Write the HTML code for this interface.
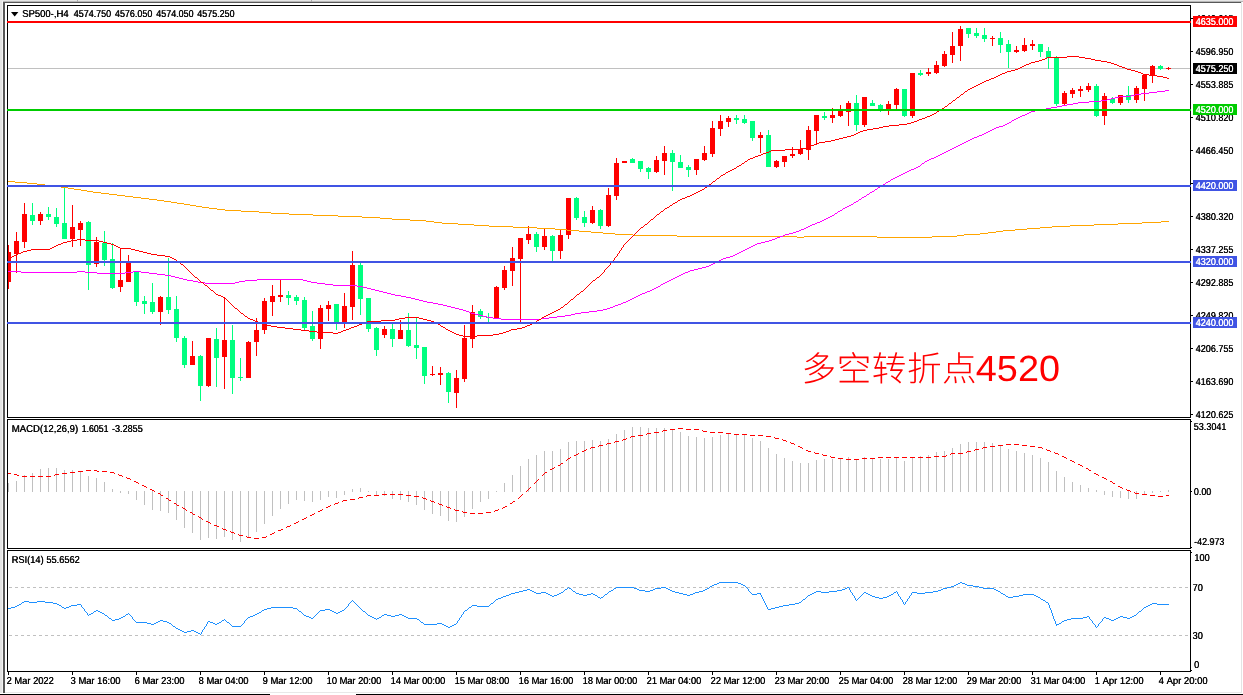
<!DOCTYPE html>
<html><head><meta charset="utf-8"><title>SP500 H4</title>
<style>
html,body{margin:0;padding:0;background:#fff;}
body{width:1243px;height:695px;overflow:hidden;font-family:"Liberation Sans",sans-serif;}
svg{will-change:transform;display:block;position:absolute;left:0;top:0;}
text{font-family:"Liberation Sans",sans-serif;font-size:10px;text-rendering:geometricPrecision;}
</style></head><body>
<svg width="1243" height="695" viewBox="0 0 1243 695">
<rect x="0" y="0" width="1243" height="695" fill="#ffffff"/>
<g shape-rendering="crispEdges">
<rect x="0" y="0" width="1243" height="1" fill="#e6e6e6"/>
<rect x="0" y="1" width="1243" height="1" fill="#b8b8b8"/>
<rect x="0" y="0" width="2" height="693" fill="#e4e4e4"/>
<rect x="2" y="1" width="1" height="692" fill="#f4f4f4"/>
<rect x="3" y="2" width="1239" height="1" fill="#585858"/>
<rect x="3" y="2" width="2" height="691" fill="#585858"/>
<rect x="1241" y="2" width="1" height="691" fill="#e4e4e4"/>
<rect x="5" y="692" width="1237" height="1" fill="#e8e8e8"/>
<rect x="0" y="694" width="270" height="1" fill="#000"/>
<rect x="356" y="694" width="887" height="1" fill="#000"/>
<rect x="77" y="0" width="1" height="2" fill="#a8a8a8"/>
<rect x="311" y="0" width="1" height="2" fill="#a8a8a8"/>
<rect x="7" y="5" width="1184" height="1" fill="#000"/>
<rect x="7" y="417" width="1184" height="1" fill="#000"/>
<rect x="7" y="5" width="1" height="413" fill="#000"/>
<rect x="1190" y="5" width="1" height="413" fill="#000"/>
<rect x="7" y="419" width="1184" height="1" fill="#000"/>
<rect x="7" y="548" width="1184" height="1" fill="#000"/>
<rect x="7" y="419" width="1" height="130" fill="#000"/>
<rect x="1190" y="419" width="1" height="130" fill="#000"/>
<rect x="7" y="550" width="1184" height="1" fill="#000"/>
<rect x="7" y="671" width="1184" height="1" fill="#000"/>
<rect x="7" y="550" width="1" height="122" fill="#000"/>
<rect x="1190" y="550" width="1" height="122" fill="#000"/>
</g>
<defs><clipPath id="cm"><rect x="8" y="6" width="1182" height="411"/></clipPath><clipPath id="c2"><rect x="8" y="420" width="1182" height="128"/></clipPath><clipPath id="c3"><rect x="8" y="551" width="1182" height="120"/></clipPath></defs>
<g clip-path="url(#cm)" shape-rendering="crispEdges">
<rect x="7" y="68" width="1184" height="1" fill="#c0c0c0"/>
<rect x="8" y="245" width="1" height="44" fill="#ff0000"/>
<rect x="6" y="252" width="5" height="30" fill="#ff0000"/>
<rect x="16" y="232" width="1" height="41" fill="#ff0000"/>
<rect x="14" y="241" width="5" height="13" fill="#ff0000"/>
<rect x="24" y="203" width="1" height="45" fill="#ff0000"/>
<rect x="22" y="214" width="5" height="28" fill="#ff0000"/>
<rect x="32" y="203" width="1" height="22" fill="#00ff7f"/>
<rect x="30" y="215" width="5" height="6" fill="#00ff7f"/>
<rect x="40" y="212" width="1" height="13" fill="#ff0000"/>
<rect x="38" y="214" width="5" height="7" fill="#ff0000"/>
<rect x="48" y="207" width="1" height="13" fill="#00ff7f"/>
<rect x="46" y="214" width="5" height="3" fill="#00ff7f"/>
<rect x="56" y="208" width="1" height="19" fill="#00ff7f"/>
<rect x="54" y="217" width="5" height="7" fill="#00ff7f"/>
<rect x="64" y="187" width="1" height="52" fill="#00ff7f"/>
<rect x="62" y="223" width="5" height="16" fill="#00ff7f"/>
<rect x="72" y="205" width="1" height="42" fill="#ff0000"/>
<rect x="70" y="227" width="5" height="12" fill="#ff0000"/>
<rect x="80" y="221" width="1" height="25" fill="#ff0000"/>
<rect x="78" y="223" width="5" height="7" fill="#ff0000"/>
<rect x="88" y="221" width="1" height="69" fill="#00ff7f"/>
<rect x="86" y="222" width="5" height="43" fill="#00ff7f"/>
<rect x="96" y="237" width="1" height="30" fill="#ff0000"/>
<rect x="94" y="242" width="5" height="22" fill="#ff0000"/>
<rect x="104" y="231" width="1" height="35" fill="#00ff7f"/>
<rect x="102" y="243" width="5" height="17" fill="#00ff7f"/>
<rect x="112" y="243" width="1" height="46" fill="#00ff7f"/>
<rect x="110" y="259" width="5" height="29" fill="#00ff7f"/>
<rect x="120" y="248" width="1" height="44" fill="#ff0000"/>
<rect x="118" y="280" width="5" height="7" fill="#ff0000"/>
<rect x="128" y="255" width="1" height="27" fill="#ff0000"/>
<rect x="126" y="262" width="5" height="20" fill="#ff0000"/>
<rect x="136" y="271" width="1" height="35" fill="#00ff7f"/>
<rect x="134" y="271" width="5" height="31" fill="#00ff7f"/>
<rect x="144" y="296" width="1" height="18" fill="#00ff7f"/>
<rect x="142" y="301" width="5" height="3" fill="#00ff7f"/>
<rect x="152" y="283" width="1" height="31" fill="#00ff7f"/>
<rect x="150" y="302" width="5" height="10" fill="#00ff7f"/>
<rect x="160" y="296" width="1" height="29" fill="#ff0000"/>
<rect x="158" y="297" width="5" height="15" fill="#ff0000"/>
<rect x="168" y="258" width="1" height="56" fill="#00ff7f"/>
<rect x="166" y="297" width="5" height="13" fill="#00ff7f"/>
<rect x="176" y="296" width="1" height="46" fill="#00ff7f"/>
<rect x="174" y="309" width="5" height="29" fill="#00ff7f"/>
<rect x="184" y="336" width="1" height="32" fill="#00ff7f"/>
<rect x="182" y="338" width="5" height="27" fill="#00ff7f"/>
<rect x="192" y="341" width="1" height="24" fill="#ff0000"/>
<rect x="190" y="356" width="5" height="9" fill="#ff0000"/>
<rect x="200" y="355" width="1" height="46" fill="#00ff7f"/>
<rect x="198" y="356" width="5" height="30" fill="#00ff7f"/>
<rect x="208" y="338" width="1" height="49" fill="#ff0000"/>
<rect x="206" y="338" width="5" height="48" fill="#ff0000"/>
<rect x="216" y="328" width="1" height="59" fill="#00ff7f"/>
<rect x="214" y="339" width="5" height="19" fill="#00ff7f"/>
<rect x="224" y="297" width="1" height="92" fill="#ff0000"/>
<rect x="222" y="340" width="5" height="17" fill="#ff0000"/>
<rect x="232" y="325" width="1" height="69" fill="#00ff7f"/>
<rect x="230" y="340" width="5" height="38" fill="#00ff7f"/>
<rect x="240" y="358" width="1" height="23" fill="#00ff7f"/>
<rect x="238" y="377" width="5" height="1" fill="#00ff7f"/>
<rect x="248" y="341" width="1" height="37" fill="#ff0000"/>
<rect x="246" y="342" width="5" height="36" fill="#ff0000"/>
<rect x="256" y="318" width="1" height="38" fill="#ff0000"/>
<rect x="254" y="330" width="5" height="12" fill="#ff0000"/>
<rect x="264" y="298" width="1" height="36" fill="#ff0000"/>
<rect x="262" y="301" width="5" height="29" fill="#ff0000"/>
<rect x="272" y="285" width="1" height="31" fill="#ff0000"/>
<rect x="270" y="296" width="5" height="6" fill="#ff0000"/>
<rect x="280" y="280" width="1" height="22" fill="#ff0000"/>
<rect x="278" y="295" width="5" height="2" fill="#ff0000"/>
<rect x="288" y="291" width="1" height="14" fill="#00ff7f"/>
<rect x="286" y="295" width="5" height="3" fill="#00ff7f"/>
<rect x="296" y="295" width="1" height="10" fill="#00ff7f"/>
<rect x="294" y="297" width="5" height="4" fill="#00ff7f"/>
<rect x="304" y="297" width="1" height="33" fill="#00ff7f"/>
<rect x="302" y="300" width="5" height="28" fill="#00ff7f"/>
<rect x="312" y="311" width="1" height="30" fill="#00ff7f"/>
<rect x="310" y="326" width="5" height="13" fill="#00ff7f"/>
<rect x="320" y="305" width="1" height="44" fill="#ff0000"/>
<rect x="318" y="308" width="5" height="31" fill="#ff0000"/>
<rect x="328" y="301" width="1" height="20" fill="#ff0000"/>
<rect x="326" y="305" width="5" height="4" fill="#ff0000"/>
<rect x="336" y="304" width="1" height="26" fill="#00ff7f"/>
<rect x="334" y="304" width="5" height="18" fill="#00ff7f"/>
<rect x="344" y="293" width="1" height="35" fill="#ff0000"/>
<rect x="342" y="306" width="5" height="16" fill="#ff0000"/>
<rect x="352" y="251" width="1" height="69" fill="#ff0000"/>
<rect x="350" y="265" width="5" height="42" fill="#ff0000"/>
<rect x="360" y="263" width="1" height="52" fill="#00ff7f"/>
<rect x="358" y="265" width="5" height="34" fill="#00ff7f"/>
<rect x="368" y="298" width="1" height="34" fill="#00ff7f"/>
<rect x="366" y="298" width="5" height="31" fill="#00ff7f"/>
<rect x="376" y="327" width="1" height="29" fill="#00ff7f"/>
<rect x="374" y="328" width="5" height="22" fill="#00ff7f"/>
<rect x="384" y="326" width="1" height="12" fill="#ff0000"/>
<rect x="382" y="329" width="5" height="6" fill="#ff0000"/>
<rect x="392" y="324" width="1" height="23" fill="#00ff7f"/>
<rect x="390" y="329" width="5" height="10" fill="#00ff7f"/>
<rect x="400" y="320" width="1" height="19" fill="#ff0000"/>
<rect x="398" y="330" width="5" height="9" fill="#ff0000"/>
<rect x="408" y="313" width="1" height="34" fill="#00ff7f"/>
<rect x="406" y="330" width="5" height="16" fill="#00ff7f"/>
<rect x="416" y="318" width="1" height="41" fill="#00ff7f"/>
<rect x="414" y="345" width="5" height="3" fill="#00ff7f"/>
<rect x="424" y="347" width="1" height="37" fill="#00ff7f"/>
<rect x="422" y="347" width="5" height="29" fill="#00ff7f"/>
<rect x="432" y="366" width="1" height="10" fill="#ff0000"/>
<rect x="430" y="374" width="5" height="1" fill="#ff0000"/>
<rect x="440" y="367" width="1" height="18" fill="#ff0000"/>
<rect x="438" y="373" width="5" height="2" fill="#ff0000"/>
<rect x="448" y="372" width="1" height="31" fill="#00ff7f"/>
<rect x="446" y="373" width="5" height="19" fill="#00ff7f"/>
<rect x="456" y="370" width="1" height="38" fill="#ff0000"/>
<rect x="454" y="378" width="5" height="15" fill="#ff0000"/>
<rect x="464" y="325" width="1" height="57" fill="#ff0000"/>
<rect x="462" y="338" width="5" height="41" fill="#ff0000"/>
<rect x="472" y="305" width="1" height="43" fill="#ff0000"/>
<rect x="470" y="312" width="5" height="27" fill="#ff0000"/>
<rect x="480" y="309" width="1" height="10" fill="#00ff7f"/>
<rect x="478" y="311" width="5" height="6" fill="#00ff7f"/>
<rect x="488" y="313" width="1" height="9" fill="#00ff7f"/>
<rect x="486" y="317" width="5" height="1" fill="#00ff7f"/>
<rect x="496" y="286" width="1" height="32" fill="#ff0000"/>
<rect x="494" y="287" width="5" height="31" fill="#ff0000"/>
<rect x="504" y="266" width="1" height="24" fill="#ff0000"/>
<rect x="502" y="270" width="5" height="18" fill="#ff0000"/>
<rect x="512" y="247" width="1" height="39" fill="#ff0000"/>
<rect x="510" y="258" width="5" height="13" fill="#ff0000"/>
<rect x="520" y="238" width="1" height="84" fill="#ff0000"/>
<rect x="518" y="238" width="5" height="21" fill="#ff0000"/>
<rect x="528" y="226" width="1" height="18" fill="#ff0000"/>
<rect x="526" y="234" width="5" height="6" fill="#ff0000"/>
<rect x="536" y="232" width="1" height="20" fill="#00ff7f"/>
<rect x="534" y="234" width="5" height="13" fill="#00ff7f"/>
<rect x="544" y="229" width="1" height="21" fill="#ff0000"/>
<rect x="542" y="236" width="5" height="11" fill="#ff0000"/>
<rect x="552" y="235" width="1" height="26" fill="#00ff7f"/>
<rect x="550" y="236" width="5" height="15" fill="#00ff7f"/>
<rect x="560" y="230" width="1" height="29" fill="#ff0000"/>
<rect x="558" y="235" width="5" height="16" fill="#ff0000"/>
<rect x="568" y="198" width="1" height="41" fill="#ff0000"/>
<rect x="566" y="198" width="5" height="37" fill="#ff0000"/>
<rect x="576" y="197" width="1" height="23" fill="#00ff7f"/>
<rect x="574" y="198" width="5" height="20" fill="#00ff7f"/>
<rect x="584" y="211" width="1" height="16" fill="#00ff7f"/>
<rect x="582" y="217" width="5" height="6" fill="#00ff7f"/>
<rect x="592" y="206" width="1" height="18" fill="#ff0000"/>
<rect x="590" y="210" width="5" height="13" fill="#ff0000"/>
<rect x="600" y="209" width="1" height="20" fill="#00ff7f"/>
<rect x="598" y="210" width="5" height="16" fill="#00ff7f"/>
<rect x="608" y="188" width="1" height="39" fill="#ff0000"/>
<rect x="606" y="195" width="5" height="31" fill="#ff0000"/>
<rect x="616" y="158" width="1" height="42" fill="#ff0000"/>
<rect x="614" y="163" width="5" height="33" fill="#ff0000"/>
<rect x="624" y="161" width="1" height="2" fill="#ff0000"/>
<rect x="622" y="161" width="5" height="2" fill="#ff0000"/>
<rect x="632" y="158" width="1" height="5" fill="#00ff7f"/>
<rect x="630" y="159" width="5" height="4" fill="#00ff7f"/>
<rect x="640" y="161" width="1" height="11" fill="#00ff7f"/>
<rect x="638" y="161" width="5" height="8" fill="#00ff7f"/>
<rect x="648" y="167" width="1" height="12" fill="#00ff7f"/>
<rect x="646" y="168" width="5" height="4" fill="#00ff7f"/>
<rect x="656" y="156" width="1" height="17" fill="#ff0000"/>
<rect x="654" y="160" width="5" height="12" fill="#ff0000"/>
<rect x="664" y="146" width="1" height="29" fill="#ff0000"/>
<rect x="662" y="153" width="5" height="8" fill="#ff0000"/>
<rect x="672" y="150" width="1" height="41" fill="#00ff7f"/>
<rect x="670" y="153" width="5" height="9" fill="#00ff7f"/>
<rect x="680" y="155" width="1" height="13" fill="#00ff7f"/>
<rect x="678" y="162" width="5" height="6" fill="#00ff7f"/>
<rect x="688" y="165" width="1" height="12" fill="#00ff7f"/>
<rect x="686" y="167" width="5" height="3" fill="#00ff7f"/>
<rect x="696" y="159" width="1" height="16" fill="#ff0000"/>
<rect x="694" y="159" width="5" height="11" fill="#ff0000"/>
<rect x="704" y="146" width="1" height="15" fill="#ff0000"/>
<rect x="702" y="153" width="5" height="7" fill="#ff0000"/>
<rect x="712" y="121" width="1" height="36" fill="#ff0000"/>
<rect x="710" y="128" width="5" height="26" fill="#ff0000"/>
<rect x="720" y="115" width="1" height="21" fill="#ff0000"/>
<rect x="718" y="121" width="5" height="8" fill="#ff0000"/>
<rect x="728" y="116" width="1" height="11" fill="#ff0000"/>
<rect x="726" y="118" width="5" height="4" fill="#ff0000"/>
<rect x="736" y="115" width="1" height="9" fill="#00ff7f"/>
<rect x="734" y="118" width="5" height="2" fill="#00ff7f"/>
<rect x="744" y="115" width="1" height="9" fill="#00ff7f"/>
<rect x="742" y="119" width="5" height="4" fill="#00ff7f"/>
<rect x="752" y="121" width="1" height="20" fill="#00ff7f"/>
<rect x="750" y="121" width="5" height="17" fill="#00ff7f"/>
<rect x="760" y="132" width="1" height="21" fill="#ff0000"/>
<rect x="758" y="135" width="5" height="3" fill="#ff0000"/>
<rect x="768" y="130" width="1" height="37" fill="#00ff7f"/>
<rect x="766" y="135" width="5" height="32" fill="#00ff7f"/>
<rect x="776" y="160" width="1" height="8" fill="#ff0000"/>
<rect x="774" y="161" width="5" height="6" fill="#ff0000"/>
<rect x="784" y="156" width="1" height="11" fill="#ff0000"/>
<rect x="782" y="156" width="5" height="6" fill="#ff0000"/>
<rect x="792" y="147" width="1" height="11" fill="#ff0000"/>
<rect x="790" y="154" width="5" height="2" fill="#ff0000"/>
<rect x="800" y="140" width="1" height="15" fill="#ff0000"/>
<rect x="798" y="149" width="5" height="5" fill="#ff0000"/>
<rect x="808" y="126" width="1" height="34" fill="#ff0000"/>
<rect x="806" y="130" width="5" height="20" fill="#ff0000"/>
<rect x="816" y="115" width="1" height="29" fill="#ff0000"/>
<rect x="814" y="115" width="5" height="16" fill="#ff0000"/>
<rect x="824" y="112" width="1" height="8" fill="#00ff7f"/>
<rect x="822" y="116" width="5" height="2" fill="#00ff7f"/>
<rect x="832" y="108" width="1" height="15" fill="#ff0000"/>
<rect x="830" y="115" width="5" height="3" fill="#ff0000"/>
<rect x="840" y="105" width="1" height="12" fill="#ff0000"/>
<rect x="838" y="110" width="5" height="6" fill="#ff0000"/>
<rect x="848" y="101" width="1" height="25" fill="#ff0000"/>
<rect x="846" y="103" width="5" height="9" fill="#ff0000"/>
<rect x="856" y="95" width="1" height="36" fill="#00ff7f"/>
<rect x="854" y="103" width="5" height="22" fill="#00ff7f"/>
<rect x="864" y="97" width="1" height="30" fill="#ff0000"/>
<rect x="862" y="97" width="5" height="28" fill="#ff0000"/>
<rect x="872" y="100" width="1" height="6" fill="#00ff7f"/>
<rect x="870" y="103" width="5" height="3" fill="#00ff7f"/>
<rect x="880" y="104" width="1" height="8" fill="#00ff7f"/>
<rect x="878" y="105" width="5" height="5" fill="#00ff7f"/>
<rect x="888" y="101" width="1" height="14" fill="#ff0000"/>
<rect x="886" y="104" width="5" height="5" fill="#ff0000"/>
<rect x="896" y="88" width="1" height="21" fill="#ff0000"/>
<rect x="894" y="89" width="5" height="16" fill="#ff0000"/>
<rect x="904" y="89" width="1" height="28" fill="#00ff7f"/>
<rect x="902" y="89" width="5" height="27" fill="#00ff7f"/>
<rect x="912" y="73" width="1" height="45" fill="#ff0000"/>
<rect x="910" y="73" width="5" height="43" fill="#ff0000"/>
<rect x="920" y="70" width="1" height="6" fill="#00ff7f"/>
<rect x="918" y="73" width="5" height="2" fill="#00ff7f"/>
<rect x="928" y="68" width="1" height="8" fill="#ff0000"/>
<rect x="926" y="72" width="5" height="2" fill="#ff0000"/>
<rect x="936" y="61" width="1" height="13" fill="#ff0000"/>
<rect x="934" y="65" width="5" height="8" fill="#ff0000"/>
<rect x="944" y="51" width="1" height="16" fill="#ff0000"/>
<rect x="942" y="54" width="5" height="12" fill="#ff0000"/>
<rect x="952" y="32" width="1" height="31" fill="#ff0000"/>
<rect x="950" y="46" width="5" height="9" fill="#ff0000"/>
<rect x="960" y="26" width="1" height="35" fill="#ff0000"/>
<rect x="958" y="29" width="5" height="17" fill="#ff0000"/>
<rect x="968" y="28" width="1" height="10" fill="#00ff7f"/>
<rect x="966" y="28" width="5" height="6" fill="#00ff7f"/>
<rect x="976" y="28" width="1" height="10" fill="#00ff7f"/>
<rect x="974" y="33" width="5" height="3" fill="#00ff7f"/>
<rect x="984" y="28" width="1" height="14" fill="#00ff7f"/>
<rect x="982" y="35" width="5" height="4" fill="#00ff7f"/>
<rect x="992" y="36" width="1" height="10" fill="#ff0000"/>
<rect x="990" y="38" width="5" height="1" fill="#ff0000"/>
<rect x="1000" y="32" width="1" height="21" fill="#00ff7f"/>
<rect x="998" y="38" width="5" height="7" fill="#00ff7f"/>
<rect x="1008" y="40" width="1" height="28" fill="#00ff7f"/>
<rect x="1006" y="44" width="5" height="8" fill="#00ff7f"/>
<rect x="1016" y="46" width="1" height="7" fill="#ff0000"/>
<rect x="1014" y="50" width="5" height="2" fill="#ff0000"/>
<rect x="1024" y="38" width="1" height="14" fill="#ff0000"/>
<rect x="1022" y="45" width="5" height="6" fill="#ff0000"/>
<rect x="1032" y="40" width="1" height="10" fill="#ff0000"/>
<rect x="1030" y="44" width="5" height="2" fill="#ff0000"/>
<rect x="1040" y="44" width="1" height="13" fill="#00ff7f"/>
<rect x="1038" y="44" width="5" height="8" fill="#00ff7f"/>
<rect x="1048" y="47" width="1" height="22" fill="#00ff7f"/>
<rect x="1046" y="51" width="5" height="7" fill="#00ff7f"/>
<rect x="1056" y="56" width="1" height="50" fill="#00ff7f"/>
<rect x="1054" y="58" width="5" height="46" fill="#00ff7f"/>
<rect x="1064" y="91" width="1" height="14" fill="#ff0000"/>
<rect x="1062" y="93" width="5" height="11" fill="#ff0000"/>
<rect x="1072" y="88" width="1" height="10" fill="#ff0000"/>
<rect x="1070" y="90" width="5" height="4" fill="#ff0000"/>
<rect x="1080" y="86" width="1" height="11" fill="#ff0000"/>
<rect x="1078" y="89" width="5" height="2" fill="#ff0000"/>
<rect x="1088" y="83" width="1" height="9" fill="#ff0000"/>
<rect x="1086" y="86" width="5" height="4" fill="#ff0000"/>
<rect x="1096" y="84" width="1" height="33" fill="#00ff7f"/>
<rect x="1094" y="86" width="5" height="30" fill="#00ff7f"/>
<rect x="1104" y="93" width="1" height="32" fill="#ff0000"/>
<rect x="1102" y="96" width="5" height="20" fill="#ff0000"/>
<rect x="1112" y="97" width="1" height="7" fill="#00ff7f"/>
<rect x="1110" y="99" width="5" height="4" fill="#00ff7f"/>
<rect x="1120" y="95" width="1" height="10" fill="#ff0000"/>
<rect x="1118" y="95" width="5" height="8" fill="#ff0000"/>
<rect x="1128" y="86" width="1" height="17" fill="#00ff7f"/>
<rect x="1126" y="95" width="5" height="5" fill="#00ff7f"/>
<rect x="1136" y="86" width="1" height="17" fill="#ff0000"/>
<rect x="1134" y="88" width="5" height="12" fill="#ff0000"/>
<rect x="1144" y="74" width="1" height="27" fill="#ff0000"/>
<rect x="1142" y="75" width="5" height="14" fill="#ff0000"/>
<rect x="1152" y="65" width="1" height="18" fill="#ff0000"/>
<rect x="1150" y="66" width="5" height="10" fill="#ff0000"/>
<rect x="1160" y="65" width="1" height="5" fill="#00ff7f"/>
<rect x="1158" y="66" width="5" height="3" fill="#00ff7f"/>
<rect x="1168" y="67" width="1" height="3" fill="#ff0000"/>
<rect x="1166" y="68" width="5" height="1" fill="#ff0000"/>
<path d="M8 181h7v1h-7zM15 182h12v1h-12zM27 183h10v1h-10zM37 184h8v1h-8zM45 185h8v1h-8zM53 186h8v1h-8zM61 187h7v1h-7zM68 188h6v1h-6zM74 189h7v1h-7zM81 190h6v1h-6zM87 191h6v1h-6zM93 192h8v1h-8zM101 193h8v1h-8zM109 194h8v1h-8zM117 195h8v1h-8zM125 196h8v1h-8zM133 197h8v1h-8zM141 198h8v1h-8zM149 199h8v1h-8zM157 200h7v1h-7zM164 201h7v1h-7zM171 202h6v1h-6zM177 203h7v1h-7zM184 204h6v1h-6zM190 205h6v1h-6zM196 206h6v1h-6zM202 207h7v1h-7zM209 208h8v1h-8zM217 209h8v1h-8zM225 210h16v1h-16zM241 211h18v1h-18zM259 212h12v1h-12zM271 213h18v1h-18zM289 214h24v1h-24zM313 215h25v1h-25zM338 216h24v1h-24zM362 217h18v1h-18zM380 218h12v1h-12zM392 219h18v1h-18zM410 220h16v1h-16zM426 221h8v1h-8zM1161 221h8v1h-8zM434 222h8v1h-8zM1142 222h19v1h-19zM442 223h16v1h-16zM1118 223h24v1h-24zM458 224h16v1h-16zM1094 224h24v1h-24zM474 225h15v1h-15zM1070 225h24v1h-24zM489 226h24v1h-24zM1052 226h18v1h-18zM513 227h24v1h-24zM1040 227h12v1h-12zM537 228h18v1h-18zM1027 228h13v1h-13zM555 229h12v1h-12zM1015 229h12v1h-12zM567 230h12v1h-12zM1003 230h12v1h-12zM579 231h12v1h-12zM996 231h7v1h-7zM591 232h12v1h-12zM988 232h8v1h-8zM603 233h12v1h-12zM980 233h8v1h-8zM615 234h18v1h-18zM964 234h16v1h-16zM633 235h44v1h-44zM957 235h7v1h-7zM677 236h120v1h-120zM804 236h73v1h-73zM932 236h25v1h-25zM797 237h7v1h-7zM877 237h55v1h-55z" fill="#ffa500"/>
<path d="M1165 90h4v1h-4zM1157 91h8v1h-8zM1149 92h8v1h-8zM1141 93h8v1h-8zM1135 94h6v1h-6zM1131 95h4v1h-4zM1119 96h12v1h-12zM1115 97h4v1h-4zM1111 98h4v1h-4zM1107 99h4v1h-4zM1101 100h6v1h-6zM1089 101h12v1h-12zM1078 102h11v1h-11zM1073 103h5v1h-5zM1067 104h6v1h-6zM1062 105h5v1h-5zM1057 106h5v1h-5zM1051 107h6v1h-6zM1046 108h5v1h-5zM1041 109h5v1h-5zM1035 110h6v1h-6zM1031 111h4v1h-4zM1029 112h2v1h-2zM1027 113h2v1h-2zM1025 114h2v1h-2zM1022 115h3v1h-3zM1020 116h2v1h-2zM1018 117h2v1h-2zM1016 118h2v1h-2zM1014 119h2v1h-2zM1012 120h2v1h-2zM1009 122h2v1h-2zM1007 123h2v1h-2zM1005 124h2v1h-2zM1003 125h2v1h-2zM999 126h4v1h-4zM996 127h3v1h-3zM994 128h2v1h-2zM992 129h2v1h-2zM990 130h2v1h-2zM988 131h2v1h-2zM986 132h2v1h-2zM984 133h2v1h-2zM982 134h2v1h-2zM979 135h3v1h-3zM977 136h2v1h-2zM974 137h3v1h-3zM972 138h2v1h-2zM970 139h2v1h-2zM968 140h2v1h-2zM966 141h2v1h-2zM964 142h2v1h-2zM962 143h2v1h-2zM960 144h2v1h-2zM958 145h2v1h-2zM956 146h2v1h-2zM954 147h2v1h-2zM952 148h2v1h-2zM950 149h2v1h-2zM948 150h2v1h-2zM946 151h2v1h-2zM944 152h2v1h-2zM942 153h2v1h-2zM940 154h2v1h-2zM938 155h2v1h-2zM936 156h2v1h-2zM934 157h2v1h-2zM931 158h3v1h-3zM929 159h2v1h-2zM927 160h2v1h-2zM925 161h2v1h-2zM922 163h2v1h-2zM918 166h2v1h-2zM916 167h2v1h-2zM914 168h2v1h-2zM911 169h3v1h-3zM909 170h2v1h-2zM907 171h2v1h-2zM905 172h2v1h-2zM903 173h2v1h-2zM901 174h2v1h-2zM899 175h2v1h-2zM897 176h2v1h-2zM895 177h2v1h-2zM893 178h2v1h-2zM891 179h2v1h-2zM888 181h2v1h-2zM886 182h2v1h-2zM883 184h2v1h-2zM880 186h2v1h-2zM878 187h2v1h-2zM875 189h2v1h-2zM872 191h2v1h-2zM870 192h2v1h-2zM867 194h2v1h-2zM864 196h2v1h-2zM862 197h2v1h-2zM859 199h2v1h-2zM856 201h2v1h-2zM854 202h2v1h-2zM851 204h2v1h-2zM849 205h2v1h-2zM847 206h2v1h-2zM845 207h2v1h-2zM843 208h2v1h-2zM840 210h2v1h-2zM838 211h2v1h-2zM835 213h2v1h-2zM832 215h2v1h-2zM830 216h2v1h-2zM828 217h2v1h-2zM826 218h2v1h-2zM824 219h2v1h-2zM822 220h2v1h-2zM820 221h2v1h-2zM817 222h3v1h-3zM815 223h2v1h-2zM812 224h3v1h-3zM810 225h2v1h-2zM808 226h2v1h-2zM806 227h2v1h-2zM804 228h2v1h-2zM801 229h3v1h-3zM799 230h2v1h-2zM796 231h3v1h-3zM793 232h3v1h-3zM789 233h4v1h-4zM785 234h4v1h-4zM783 235h2v1h-2zM780 236h3v1h-3zM777 237h3v1h-3zM775 238h2v1h-2zM772 239h3v1h-3zM769 240h3v1h-3zM765 241h4v1h-4zM761 242h4v1h-4zM757 243h4v1h-4zM755 244h2v1h-2zM753 245h2v1h-2zM751 246h2v1h-2zM749 247h2v1h-2zM747 248h2v1h-2zM745 249h2v1h-2zM743 250h2v1h-2zM741 251h2v1h-2zM739 252h2v1h-2zM737 253h2v1h-2zM735 254h2v1h-2zM733 255h2v1h-2zM730 256h3v1h-3zM726 257h4v1h-4zM723 258h3v1h-3zM721 259h2v1h-2zM719 260h2v1h-2zM717 261h2v1h-2zM715 262h2v1h-2zM713 263h2v1h-2zM711 264h2v1h-2zM709 265h2v1h-2zM706 266h3v1h-3zM702 267h4v1h-4zM698 268h4v1h-4zM694 269h4v1h-4zM690 270h4v1h-4zM8 271h13v1h-13zM77 271h8v1h-8zM133 271h8v1h-8zM688 271h2v1h-2zM21 272h56v1h-56zM85 272h12v1h-12zM125 272h8v1h-8zM141 272h8v1h-8zM685 272h3v1h-3zM97 273h28v1h-28zM149 273h8v1h-8zM683 273h2v1h-2zM157 274h8v1h-8zM681 274h2v1h-2zM165 275h6v1h-6zM679 275h2v1h-2zM171 276h4v1h-4zM677 276h2v1h-2zM175 277h4v1h-4zM675 277h2v1h-2zM179 278h4v1h-4zM673 278h2v1h-2zM183 279h4v1h-4zM257 279h46v1h-46zM671 279h2v1h-2zM187 280h6v1h-6zM245 280h12v1h-12zM303 280h4v1h-4zM669 280h2v1h-2zM193 281h5v1h-5zM239 281h6v1h-6zM307 281h4v1h-4zM667 281h2v1h-2zM198 282h7v1h-7zM235 282h4v1h-4zM311 282h6v1h-6zM665 282h2v1h-2zM205 283h30v1h-30zM317 283h8v1h-8zM663 283h2v1h-2zM325 284h8v1h-8zM661 284h2v1h-2zM333 285h24v1h-24zM357 286h6v1h-6zM658 286h2v1h-2zM363 287h4v1h-4zM656 287h2v1h-2zM367 288h4v1h-4zM654 288h2v1h-2zM371 289h4v1h-4zM652 289h2v1h-2zM375 290h4v1h-4zM650 290h2v1h-2zM379 291h4v1h-4zM647 291h3v1h-3zM383 292h4v1h-4zM645 292h2v1h-2zM387 293h4v1h-4zM642 293h3v1h-3zM391 294h4v1h-4zM640 294h2v1h-2zM395 295h6v1h-6zM638 295h2v1h-2zM401 296h5v1h-5zM636 296h2v1h-2zM406 297h5v1h-5zM634 297h2v1h-2zM411 298h4v1h-4zM632 298h2v1h-2zM415 299h4v1h-4zM630 299h2v1h-2zM419 300h4v1h-4zM628 300h2v1h-2zM423 301h4v1h-4zM626 301h2v1h-2zM427 302h6v1h-6zM623 302h3v1h-3zM433 303h5v1h-5zM621 303h2v1h-2zM438 304h5v1h-5zM618 304h3v1h-3zM443 305h4v1h-4zM615 305h3v1h-3zM447 306h4v1h-4zM613 306h2v1h-2zM451 307h4v1h-4zM610 307h3v1h-3zM455 308h4v1h-4zM607 308h3v1h-3zM459 309h4v1h-4zM603 309h4v1h-4zM463 310h3v1h-3zM597 310h6v1h-6zM466 311h3v1h-3zM589 311h8v1h-8zM469 312h2v1h-2zM581 312h8v1h-8zM471 313h4v1h-4zM575 313h6v1h-6zM475 314h4v1h-4zM571 314h4v1h-4zM479 315h4v1h-4zM565 315h6v1h-6zM483 316h4v1h-4zM557 316h8v1h-8zM487 317h6v1h-6zM549 317h8v1h-8zM493 318h8v1h-8zM541 318h8v1h-8zM501 319h40v1h-40zM660 285h1v1h-1zM834 214h1v1h-1zM837 212h1v1h-1zM842 209h1v1h-1zM853 203h1v1h-1zM858 200h1v1h-1zM861 198h1v1h-1zM866 195h1v1h-1zM869 193h1v1h-1zM874 190h1v1h-1zM877 188h1v1h-1zM882 185h1v1h-1zM885 183h1v1h-1zM890 180h1v1h-1zM920 165h1v1h-1zM921 164h1v1h-1zM924 162h1v1h-1zM1011 121h1v1h-1z" fill="#ff00ff"/>
<path d="M1067 56h12v1h-12zM1047 57h20v1h-20zM1079 57h6v1h-6zM1045 58h2v1h-2zM1085 58h6v1h-6zM1042 59h3v1h-3zM1091 59h4v1h-4zM1039 60h3v1h-3zM1095 60h6v1h-6zM1035 61h4v1h-4zM1101 61h6v1h-6zM1031 62h4v1h-4zM1107 62h4v1h-4zM1029 63h2v1h-2zM1111 63h3v1h-3zM1026 64h3v1h-3zM1114 64h3v1h-3zM1024 65h2v1h-2zM1117 65h2v1h-2zM1022 66h2v1h-2zM1119 66h3v1h-3zM1020 67h2v1h-2zM1122 67h3v1h-3zM1018 68h2v1h-2zM1125 68h2v1h-2zM1015 69h3v1h-3zM1127 69h4v1h-4zM1011 70h4v1h-4zM1131 70h4v1h-4zM1007 71h4v1h-4zM1135 71h3v1h-3zM1005 72h2v1h-2zM1138 72h3v1h-3zM1002 73h3v1h-3zM1141 73h2v1h-2zM1000 74h2v1h-2zM1143 74h6v1h-6zM998 75h2v1h-2zM1149 75h8v1h-8zM996 76h2v1h-2zM1157 76h6v1h-6zM994 77h2v1h-2zM1163 77h4v1h-4zM991 78h3v1h-3zM1167 78h2v1h-2zM989 79h2v1h-2zM986 80h3v1h-3zM984 81h2v1h-2zM982 82h2v1h-2zM980 83h2v1h-2zM978 84h2v1h-2zM976 85h2v1h-2zM974 86h2v1h-2zM972 87h2v1h-2zM970 88h2v1h-2zM968 89h2v1h-2zM965 91h2v1h-2zM961 94h2v1h-2zM957 97h2v1h-2zM953 100h2v1h-2zM949 103h2v1h-2zM945 106h2v1h-2zM942 108h2v1h-2zM939 110h2v1h-2zM937 111h2v1h-2zM934 113h2v1h-2zM932 114h2v1h-2zM930 115h2v1h-2zM927 116h3v1h-3zM925 117h2v1h-2zM922 118h3v1h-3zM919 119h3v1h-3zM917 120h2v1h-2zM914 121h3v1h-3zM911 122h3v1h-3zM907 123h4v1h-4zM899 124h8v1h-8zM889 125h10v1h-10zM883 126h6v1h-6zM879 127h4v1h-4zM873 128h6v1h-6zM867 129h6v1h-6zM863 130h4v1h-4zM860 131h3v1h-3zM858 132h2v1h-2zM856 133h2v1h-2zM854 134h2v1h-2zM851 135h3v1h-3zM847 136h4v1h-4zM843 137h4v1h-4zM839 138h4v1h-4zM835 139h4v1h-4zM831 140h4v1h-4zM825 141h6v1h-6zM819 142h6v1h-6zM817 143h2v1h-2zM814 144h3v1h-3zM811 145h3v1h-3zM809 146h2v1h-2zM806 147h3v1h-3zM801 148h5v1h-5zM785 149h16v1h-16zM771 150h14v1h-14zM769 151h2v1h-2zM766 152h3v1h-3zM763 153h3v1h-3zM761 154h2v1h-2zM758 155h3v1h-3zM755 156h3v1h-3zM753 157h2v1h-2zM750 158h3v1h-3zM748 159h2v1h-2zM745 161h2v1h-2zM742 163h2v1h-2zM739 165h2v1h-2zM737 166h2v1h-2zM734 168h2v1h-2zM732 169h2v1h-2zM730 170h2v1h-2zM728 171h2v1h-2zM726 172h2v1h-2zM723 174h2v1h-2zM721 175h2v1h-2zM717 178h2v1h-2zM713 181h2v1h-2zM709 184h2v1h-2zM705 187h2v1h-2zM702 189h2v1h-2zM700 190h2v1h-2zM698 191h2v1h-2zM696 192h2v1h-2zM694 193h2v1h-2zM692 194h2v1h-2zM690 195h2v1h-2zM687 196h3v1h-3zM685 197h2v1h-2zM682 198h3v1h-3zM680 199h2v1h-2zM678 200h2v1h-2zM675 202h2v1h-2zM673 203h2v1h-2zM670 205h2v1h-2zM667 207h2v1h-2zM665 208h2v1h-2zM661 211h2v1h-2zM657 214h2v1h-2zM651 219h2v1h-2zM645 224h2v1h-2zM641 227h2v1h-2zM77 239h8v1h-8zM71 240h6v1h-6zM85 240h14v1h-14zM67 241h4v1h-4zM99 241h4v1h-4zM63 242h4v1h-4zM103 242h4v1h-4zM61 243h2v1h-2zM107 243h4v1h-4zM58 244h3v1h-3zM111 244h3v1h-3zM56 245h2v1h-2zM114 245h2v1h-2zM54 246h2v1h-2zM116 246h2v1h-2zM52 247h2v1h-2zM118 247h2v1h-2zM50 248h2v1h-2zM120 248h11v1h-11zM31 249h19v1h-19zM131 249h4v1h-4zM27 250h4v1h-4zM135 250h4v1h-4zM23 251h4v1h-4zM139 251h4v1h-4zM21 252h2v1h-2zM143 252h4v1h-4zM18 253h3v1h-3zM147 253h4v1h-4zM16 254h2v1h-2zM151 254h6v1h-6zM14 255h2v1h-2zM157 255h8v1h-8zM12 256h2v1h-2zM165 256h5v1h-5zM10 257h2v1h-2zM170 257h2v1h-2zM8 258h2v1h-2zM172 258h2v1h-2zM174 259h2v1h-2zM177 261h2v1h-2zM181 264h2v1h-2zM195 277h2v1h-2zM597 277h2v1h-2zM593 280h2v1h-2zM201 282h2v1h-2zM205 285h2v1h-2zM211 290h2v1h-2zM581 291h2v1h-2zM216 294h2v1h-2zM577 294h2v1h-2zM218 295h3v1h-3zM221 296h2v1h-2zM223 297h2v1h-2zM571 299h2v1h-2zM565 304h2v1h-2zM561 307h2v1h-2zM235 308h2v1h-2zM558 309h2v1h-2zM556 310h2v1h-2zM554 311h2v1h-2zM552 312h2v1h-2zM241 313h2v1h-2zM550 313h2v1h-2zM548 314h2v1h-2zM546 315h2v1h-2zM245 316h2v1h-2zM544 316h2v1h-2zM405 317h14v1h-14zM542 317h2v1h-2zM248 318h2v1h-2zM399 318h6v1h-6zM419 318h4v1h-4zM250 319h3v1h-3zM395 319h4v1h-4zM423 319h4v1h-4zM539 319h2v1h-2zM253 320h2v1h-2zM381 320h14v1h-14zM427 320h4v1h-4zM537 320h2v1h-2zM255 321h3v1h-3zM367 321h14v1h-14zM431 321h3v1h-3zM258 322h3v1h-3zM365 322h2v1h-2zM434 322h2v1h-2zM534 322h2v1h-2zM261 323h2v1h-2zM362 323h3v1h-3zM436 323h2v1h-2zM532 323h2v1h-2zM263 324h4v1h-4zM359 324h3v1h-3zM438 324h2v1h-2zM530 324h2v1h-2zM267 325h4v1h-4zM357 325h2v1h-2zM527 325h3v1h-3zM271 326h6v1h-6zM354 326h3v1h-3zM441 326h2v1h-2zM525 326h2v1h-2zM277 327h8v1h-8zM351 327h3v1h-3zM443 327h2v1h-2zM522 327h3v1h-3zM285 328h8v1h-8zM349 328h2v1h-2zM517 328h5v1h-5zM293 329h8v1h-8zM346 329h3v1h-3zM446 329h2v1h-2zM511 329h6v1h-6zM301 330h8v1h-8zM343 330h3v1h-3zM448 330h2v1h-2zM509 330h2v1h-2zM309 331h8v1h-8zM341 331h2v1h-2zM450 331h2v1h-2zM506 331h3v1h-3zM317 332h16v1h-16zM338 332h3v1h-3zM452 332h2v1h-2zM503 332h3v1h-3zM333 333h5v1h-5zM454 333h2v1h-2zM499 333h4v1h-4zM456 334h3v1h-3zM493 334h6v1h-6zM459 335h4v1h-4zM477 335h16v1h-16zM463 336h14v1h-14zM176 260h1v1h-1zM179 262h1v1h-1zM180 263h1v1h-1zM183 265h1v1h-1zM184 266h1v1h-1zM185 267h1v1h-1zM186 268h1v1h-1zM187 269h1v1h-1zM188 270h1v1h-1zM189 271h1v1h-1zM190 272h1v1h-1zM191 273h1v1h-1zM192 274h1v1h-1zM193 275h1v1h-1zM194 276h1v1h-1zM197 278h1v1h-1zM198 279h1v1h-1zM199 280h1v1h-1zM200 281h1v1h-1zM203 283h1v1h-1zM204 284h1v1h-1zM207 286h1v1h-1zM208 287h1v1h-1zM209 288h1v1h-1zM210 289h1v1h-1zM213 291h1v1h-1zM214 292h1v1h-1zM215 293h1v1h-1zM225 298h1v1h-1zM226 299h1v1h-1zM227 300h1v1h-1zM228 301h1v1h-1zM229 302h1v1h-1zM230 303h1v1h-1zM231 304h1v1h-1zM232 305h1v1h-1zM233 306h1v1h-1zM234 307h1v1h-1zM237 309h1v1h-1zM238 310h1v1h-1zM239 311h1v1h-1zM240 312h1v1h-1zM243 314h1v1h-1zM244 315h1v1h-1zM247 317h1v1h-1zM440 325h1v1h-1zM445 328h1v1h-1zM536 321h1v1h-1zM541 318h1v1h-1zM560 308h1v1h-1zM563 306h1v1h-1zM564 305h1v1h-1zM567 303h1v1h-1zM568 302h1v1h-1zM569 301h1v1h-1zM570 300h1v1h-1zM573 298h1v1h-1zM574 297h1v1h-1zM575 296h1v1h-1zM576 295h1v1h-1zM579 293h1v1h-1zM580 292h1v1h-1zM583 290h1v1h-1zM584 289h1v1h-1zM585 288h1v1h-1zM586 287h1v1h-1zM587 286h1v1h-1zM588 285h1v1h-1zM589 284h1v1h-1zM590 283h1v1h-1zM591 282h1v1h-1zM592 281h1v1h-1zM595 279h1v1h-1zM596 278h1v1h-1zM599 276h1v1h-1zM600 275h1v1h-1zM601 274h1v1h-1zM602 273h1v1h-1zM603 272h1v1h-1zM604 270h1v2h-1zM605 269h1v1h-1zM606 268h1v1h-1zM607 267h1v1h-1zM608 266h1v1h-1zM609 265h1v1h-1zM610 263h1v2h-1zM611 262h1v1h-1zM612 261h1v1h-1zM613 260h1v1h-1zM614 258h1v2h-1zM615 257h1v1h-1zM616 256h1v1h-1zM617 254h1v2h-1zM618 253h1v1h-1zM619 251h1v2h-1zM620 250h1v1h-1zM621 248h1v2h-1zM622 247h1v1h-1zM623 245h1v2h-1zM624 244h1v1h-1zM625 243h1v1h-1zM626 242h1v1h-1zM627 241h1v1h-1zM628 240h1v1h-1zM629 239h1v1h-1zM630 238h1v1h-1zM631 237h1v1h-1zM632 236h1v1h-1zM633 235h1v1h-1zM634 234h1v1h-1zM635 233h1v1h-1zM636 232h1v1h-1zM637 231h1v1h-1zM638 230h1v1h-1zM639 229h1v1h-1zM640 228h1v1h-1zM643 226h1v1h-1zM644 225h1v1h-1zM647 223h1v1h-1zM648 222h1v1h-1zM649 221h1v1h-1zM650 220h1v1h-1zM653 218h1v1h-1zM654 217h1v1h-1zM655 216h1v1h-1zM656 215h1v1h-1zM659 213h1v1h-1zM660 212h1v1h-1zM663 210h1v1h-1zM664 209h1v1h-1zM669 206h1v1h-1zM672 204h1v1h-1zM677 201h1v1h-1zM704 188h1v1h-1zM707 186h1v1h-1zM708 185h1v1h-1zM711 183h1v1h-1zM712 182h1v1h-1zM715 180h1v1h-1zM716 179h1v1h-1zM719 177h1v1h-1zM720 176h1v1h-1zM725 173h1v1h-1zM736 167h1v1h-1zM741 164h1v1h-1zM744 162h1v1h-1zM747 160h1v1h-1zM936 112h1v1h-1zM941 109h1v1h-1zM944 107h1v1h-1zM947 105h1v1h-1zM948 104h1v1h-1zM951 102h1v1h-1zM952 101h1v1h-1zM955 99h1v1h-1zM956 98h1v1h-1zM959 96h1v1h-1zM960 95h1v1h-1zM963 93h1v1h-1zM964 92h1v1h-1zM967 90h1v1h-1z" fill="#ff0000"/>
</g>
<g shape-rendering="crispEdges">
<rect x="7" y="21" width="1184" height="2" fill="#ff0000"/>
<rect x="7" y="109" width="1184" height="2" fill="#00cc00"/>
<rect x="7" y="185" width="1184" height="2" fill="#4054e4"/>
<rect x="7" y="261" width="1184" height="2" fill="#4054e4"/>
<rect x="7" y="322" width="1184" height="2" fill="#4054e4"/>
</g>
<g clip-path="url(#c2)" shape-rendering="crispEdges">
<rect x="8" y="483" width="1" height="9" fill="#c0c0c0"/>
<rect x="16" y="481" width="1" height="11" fill="#c0c0c0"/>
<rect x="24" y="475" width="1" height="17" fill="#c0c0c0"/>
<rect x="32" y="473" width="1" height="19" fill="#c0c0c0"/>
<rect x="40" y="469" width="1" height="23" fill="#c0c0c0"/>
<rect x="48" y="468" width="1" height="24" fill="#c0c0c0"/>
<rect x="56" y="468" width="1" height="24" fill="#c0c0c0"/>
<rect x="64" y="470" width="1" height="22" fill="#c0c0c0"/>
<rect x="72" y="470" width="1" height="22" fill="#c0c0c0"/>
<rect x="80" y="472" width="1" height="20" fill="#c0c0c0"/>
<rect x="88" y="476" width="1" height="16" fill="#c0c0c0"/>
<rect x="96" y="478" width="1" height="14" fill="#c0c0c0"/>
<rect x="104" y="482" width="1" height="10" fill="#c0c0c0"/>
<rect x="112" y="489" width="1" height="3" fill="#c0c0c0"/>
<rect x="120" y="491" width="1" height="2" fill="#c0c0c0"/>
<rect x="128" y="491" width="1" height="3" fill="#c0c0c0"/>
<rect x="136" y="491" width="1" height="9" fill="#c0c0c0"/>
<rect x="144" y="491" width="1" height="14" fill="#c0c0c0"/>
<rect x="152" y="491" width="1" height="19" fill="#c0c0c0"/>
<rect x="160" y="491" width="1" height="20" fill="#c0c0c0"/>
<rect x="168" y="491" width="1" height="22" fill="#c0c0c0"/>
<rect x="176" y="491" width="1" height="29" fill="#c0c0c0"/>
<rect x="184" y="491" width="1" height="37" fill="#c0c0c0"/>
<rect x="192" y="491" width="1" height="42" fill="#c0c0c0"/>
<rect x="200" y="491" width="1" height="49" fill="#c0c0c0"/>
<rect x="208" y="491" width="1" height="47" fill="#c0c0c0"/>
<rect x="216" y="491" width="1" height="48" fill="#c0c0c0"/>
<rect x="224" y="491" width="1" height="46" fill="#c0c0c0"/>
<rect x="232" y="491" width="1" height="49" fill="#c0c0c0"/>
<rect x="240" y="491" width="1" height="51" fill="#c0c0c0"/>
<rect x="248" y="491" width="1" height="46" fill="#c0c0c0"/>
<rect x="256" y="491" width="1" height="41" fill="#c0c0c0"/>
<rect x="264" y="491" width="1" height="33" fill="#c0c0c0"/>
<rect x="272" y="491" width="1" height="25" fill="#c0c0c0"/>
<rect x="280" y="491" width="1" height="18" fill="#c0c0c0"/>
<rect x="288" y="491" width="1" height="13" fill="#c0c0c0"/>
<rect x="296" y="491" width="1" height="9" fill="#c0c0c0"/>
<rect x="304" y="491" width="1" height="10" fill="#c0c0c0"/>
<rect x="312" y="491" width="1" height="11" fill="#c0c0c0"/>
<rect x="320" y="491" width="1" height="9" fill="#c0c0c0"/>
<rect x="328" y="491" width="1" height="6" fill="#c0c0c0"/>
<rect x="336" y="491" width="1" height="7" fill="#c0c0c0"/>
<rect x="344" y="491" width="1" height="4" fill="#c0c0c0"/>
<rect x="352" y="489" width="1" height="3" fill="#c0c0c0"/>
<rect x="360" y="488" width="1" height="4" fill="#c0c0c0"/>
<rect x="368" y="491" width="1" height="1" fill="#c0c0c0"/>
<rect x="376" y="491" width="1" height="4" fill="#c0c0c0"/>
<rect x="384" y="491" width="1" height="5" fill="#c0c0c0"/>
<rect x="392" y="491" width="1" height="8" fill="#c0c0c0"/>
<rect x="400" y="491" width="1" height="9" fill="#c0c0c0"/>
<rect x="408" y="491" width="1" height="11" fill="#c0c0c0"/>
<rect x="416" y="491" width="1" height="14" fill="#c0c0c0"/>
<rect x="424" y="491" width="1" height="19" fill="#c0c0c0"/>
<rect x="432" y="491" width="1" height="23" fill="#c0c0c0"/>
<rect x="440" y="491" width="1" height="25" fill="#c0c0c0"/>
<rect x="448" y="491" width="1" height="30" fill="#c0c0c0"/>
<rect x="456" y="491" width="1" height="31" fill="#c0c0c0"/>
<rect x="464" y="491" width="1" height="26" fill="#c0c0c0"/>
<rect x="472" y="491" width="1" height="18" fill="#c0c0c0"/>
<rect x="480" y="491" width="1" height="11" fill="#c0c0c0"/>
<rect x="488" y="491" width="1" height="8" fill="#c0c0c0"/>
<rect x="496" y="491" width="1" height="1" fill="#c0c0c0"/>
<rect x="504" y="483" width="1" height="9" fill="#c0c0c0"/>
<rect x="512" y="475" width="1" height="17" fill="#c0c0c0"/>
<rect x="520" y="466" width="1" height="26" fill="#c0c0c0"/>
<rect x="528" y="459" width="1" height="33" fill="#c0c0c0"/>
<rect x="536" y="455" width="1" height="37" fill="#c0c0c0"/>
<rect x="544" y="451" width="1" height="41" fill="#c0c0c0"/>
<rect x="552" y="451" width="1" height="41" fill="#c0c0c0"/>
<rect x="560" y="449" width="1" height="43" fill="#c0c0c0"/>
<rect x="568" y="442" width="1" height="50" fill="#c0c0c0"/>
<rect x="576" y="441" width="1" height="51" fill="#c0c0c0"/>
<rect x="584" y="441" width="1" height="51" fill="#c0c0c0"/>
<rect x="592" y="440" width="1" height="52" fill="#c0c0c0"/>
<rect x="600" y="441" width="1" height="51" fill="#c0c0c0"/>
<rect x="608" y="439" width="1" height="53" fill="#c0c0c0"/>
<rect x="616" y="434" width="1" height="58" fill="#c0c0c0"/>
<rect x="624" y="430" width="1" height="62" fill="#c0c0c0"/>
<rect x="632" y="427" width="1" height="65" fill="#c0c0c0"/>
<rect x="640" y="427" width="1" height="65" fill="#c0c0c0"/>
<rect x="648" y="428" width="1" height="64" fill="#c0c0c0"/>
<rect x="656" y="428" width="1" height="64" fill="#c0c0c0"/>
<rect x="664" y="428" width="1" height="64" fill="#c0c0c0"/>
<rect x="672" y="430" width="1" height="62" fill="#c0c0c0"/>
<rect x="680" y="432" width="1" height="60" fill="#c0c0c0"/>
<rect x="688" y="436" width="1" height="56" fill="#c0c0c0"/>
<rect x="696" y="437" width="1" height="55" fill="#c0c0c0"/>
<rect x="704" y="438" width="1" height="54" fill="#c0c0c0"/>
<rect x="712" y="437" width="1" height="55" fill="#c0c0c0"/>
<rect x="720" y="435" width="1" height="57" fill="#c0c0c0"/>
<rect x="728" y="434" width="1" height="58" fill="#c0c0c0"/>
<rect x="736" y="434" width="1" height="58" fill="#c0c0c0"/>
<rect x="744" y="435" width="1" height="57" fill="#c0c0c0"/>
<rect x="752" y="438" width="1" height="54" fill="#c0c0c0"/>
<rect x="760" y="441" width="1" height="51" fill="#c0c0c0"/>
<rect x="768" y="448" width="1" height="44" fill="#c0c0c0"/>
<rect x="776" y="454" width="1" height="38" fill="#c0c0c0"/>
<rect x="784" y="458" width="1" height="34" fill="#c0c0c0"/>
<rect x="792" y="461" width="1" height="31" fill="#c0c0c0"/>
<rect x="800" y="463" width="1" height="29" fill="#c0c0c0"/>
<rect x="808" y="463" width="1" height="29" fill="#c0c0c0"/>
<rect x="816" y="460" width="1" height="32" fill="#c0c0c0"/>
<rect x="824" y="459" width="1" height="33" fill="#c0c0c0"/>
<rect x="832" y="459" width="1" height="33" fill="#c0c0c0"/>
<rect x="840" y="459" width="1" height="33" fill="#c0c0c0"/>
<rect x="848" y="457" width="1" height="35" fill="#c0c0c0"/>
<rect x="856" y="460" width="1" height="32" fill="#c0c0c0"/>
<rect x="864" y="457" width="1" height="35" fill="#c0c0c0"/>
<rect x="872" y="459" width="1" height="33" fill="#c0c0c0"/>
<rect x="880" y="459" width="1" height="33" fill="#c0c0c0"/>
<rect x="888" y="459" width="1" height="33" fill="#c0c0c0"/>
<rect x="896" y="458" width="1" height="34" fill="#c0c0c0"/>
<rect x="904" y="461" width="1" height="31" fill="#c0c0c0"/>
<rect x="912" y="458" width="1" height="34" fill="#c0c0c0"/>
<rect x="920" y="456" width="1" height="36" fill="#c0c0c0"/>
<rect x="928" y="455" width="1" height="37" fill="#c0c0c0"/>
<rect x="936" y="452" width="1" height="40" fill="#c0c0c0"/>
<rect x="944" y="451" width="1" height="41" fill="#c0c0c0"/>
<rect x="952" y="448" width="1" height="44" fill="#c0c0c0"/>
<rect x="960" y="444" width="1" height="48" fill="#c0c0c0"/>
<rect x="968" y="442" width="1" height="50" fill="#c0c0c0"/>
<rect x="976" y="442" width="1" height="50" fill="#c0c0c0"/>
<rect x="984" y="442" width="1" height="50" fill="#c0c0c0"/>
<rect x="992" y="443" width="1" height="49" fill="#c0c0c0"/>
<rect x="1000" y="446" width="1" height="46" fill="#c0c0c0"/>
<rect x="1008" y="449" width="1" height="43" fill="#c0c0c0"/>
<rect x="1016" y="451" width="1" height="41" fill="#c0c0c0"/>
<rect x="1024" y="453" width="1" height="39" fill="#c0c0c0"/>
<rect x="1032" y="455" width="1" height="37" fill="#c0c0c0"/>
<rect x="1040" y="458" width="1" height="34" fill="#c0c0c0"/>
<rect x="1048" y="462" width="1" height="30" fill="#c0c0c0"/>
<rect x="1056" y="471" width="1" height="21" fill="#c0c0c0"/>
<rect x="1064" y="477" width="1" height="15" fill="#c0c0c0"/>
<rect x="1072" y="482" width="1" height="10" fill="#c0c0c0"/>
<rect x="1080" y="485" width="1" height="7" fill="#c0c0c0"/>
<rect x="1088" y="488" width="1" height="4" fill="#c0c0c0"/>
<rect x="1096" y="490" width="1" height="2" fill="#c0c0c0"/>
<rect x="1104" y="491" width="1" height="4" fill="#c0c0c0"/>
<rect x="1112" y="491" width="1" height="6" fill="#c0c0c0"/>
<rect x="1120" y="491" width="1" height="7" fill="#c0c0c0"/>
<rect x="1128" y="491" width="1" height="8" fill="#c0c0c0"/>
<rect x="1136" y="491" width="1" height="8" fill="#c0c0c0"/>
<rect x="1144" y="491" width="1" height="4" fill="#c0c0c0"/>
<rect x="1152" y="491" width="1" height="2" fill="#c0c0c0"/>
<rect x="1160" y="491" width="1" height="1" fill="#c0c0c0"/>
<rect x="1168" y="490" width="1" height="2" fill="#c0c0c0"/>
<path d="M678 428h5v1h-5zM670 429h5v1h-5zM686 429h5v1h-5zM694 429h5v1h-5zM663 430h4v1h-4zM703 431h4v1h-4zM654 432h5v1h-5zM710 432h5v1h-5zM718 432h5v1h-5zM647 433h4v1h-4zM726 433h5v1h-5zM734 434h5v1h-5zM742 434h5v1h-5zM638 435h5v1h-5zM750 435h5v1h-5zM758 435h5v1h-5zM631 436h4v1h-4zM766 436h5v1h-5zM775 438h4v1h-4zM623 439h3v1h-3zM783 440h3v1h-3zM615 441h4v1h-4zM607 443h4v1h-4zM791 443h3v1h-3zM1006 444h5v1h-5zM1014 444h5v1h-5zM599 445h4v1h-4zM998 445h5v1h-5zM1022 445h5v1h-5zM798 446h2v1h-2zM990 446h5v1h-5zM1030 446h5v1h-5zM591 447h4v1h-4zM800 447h2v1h-2zM983 447h4v1h-4zM1038 447h4v1h-4zM975 449h4v1h-4zM584 450h2v1h-2zM806 450h2v1h-2zM1047 450h3v1h-3zM582 451h2v1h-2zM808 451h3v1h-3zM967 451h4v1h-4zM815 453h4v1h-4zM951 453h4v1h-4zM958 453h5v1h-5zM1055 453h3v1h-3zM576 454h2v1h-2zM574 455h2v1h-2zM823 455h4v1h-4zM934 456h5v1h-5zM942 456h4v1h-4zM1062 456h2v1h-2zM831 457h4v1h-4zM878 457h5v1h-5zM886 457h5v1h-5zM894 457h5v1h-5zM902 457h5v1h-5zM910 457h5v1h-5zM918 457h5v1h-5zM926 457h5v1h-5zM1064 457h2v1h-2zM568 458h2v1h-2zM838 458h5v1h-5zM862 458h5v1h-5zM870 458h5v1h-5zM846 459h5v1h-5zM854 459h5v1h-5zM1070 460h2v1h-2zM1072 461h2v1h-2zM561 463h2v1h-2zM1078 464h2v1h-2zM558 465h2v1h-2zM1080 465h2v1h-2zM552 468h2v1h-2zM1086 468h2v1h-2zM550 469h2v1h-2zM86 470h5v1h-5zM94 470h3v1h-3zM1089 470h2v1h-2zM78 471h5v1h-5zM97 471h2v1h-2zM102 471h5v1h-5zM70 472h5v1h-5zM110 472h4v1h-4zM545 472h2v1h-2zM8 473h3v1h-3zM62 473h5v1h-5zM1094 473h2v1h-2zM14 474h3v1h-3zM55 474h4v1h-4zM1096 474h2v1h-2zM17 475h2v1h-2zM119 475h3v1h-3zM22 476h5v1h-5zM30 476h5v1h-5zM38 476h5v1h-5zM46 476h5v1h-5zM1102 477h2v1h-2zM127 478h3v1h-3zM1104 478h2v1h-2zM134 481h2v1h-2zM1110 481h2v1h-2zM136 482h2v1h-2zM1113 483h2v1h-2zM142 485h2v1h-2zM144 486h2v1h-2zM1118 486h2v1h-2zM1120 487h2v1h-2zM150 489h2v1h-2zM152 490h2v1h-2zM1127 490h3v1h-3zM158 493h2v1h-2zM1135 493h4v1h-4zM382 494h5v1h-5zM390 494h5v1h-5zM398 494h5v1h-5zM1142 494h5v1h-5zM161 495h2v1h-2zM367 495h4v1h-4zM374 495h5v1h-5zM406 495h5v1h-5zM1150 495h5v1h-5zM1166 495h3v1h-3zM414 496h5v1h-5zM1158 496h5v1h-5zM359 497h4v1h-4zM166 498h2v1h-2zM423 498h3v1h-3zM350 499h5v1h-5zM169 500h2v1h-2zM343 500h4v1h-4zM431 501h3v1h-3zM513 501h2v1h-2zM174 503h2v1h-2zM335 503h3v1h-3zM510 503h2v1h-2zM439 504h3v1h-3zM177 505h2v1h-2zM328 506h2v1h-2zM505 506h2v1h-2zM326 507h2v1h-2zM447 507h3v1h-3zM503 507h2v1h-2zM183 508h2v1h-2zM320 510h2v1h-2zM455 510h4v1h-4zM495 510h3v1h-3zM318 511h2v1h-2zM190 512h2v1h-2zM463 512h4v1h-4zM486 512h5v1h-5zM470 513h5v1h-5zM478 513h5v1h-5zM193 514h2v1h-2zM312 514h2v1h-2zM310 515h2v1h-2zM199 517h2v1h-2zM304 518h2v1h-2zM302 519h2v1h-2zM206 521h2v1h-2zM208 522h2v1h-2zM296 522h2v1h-2zM294 523h2v1h-2zM214 525h3v1h-3zM217 526h2v1h-2zM287 526h3v1h-3zM223 529h3v1h-3zM281 529h2v1h-2zM278 530h3v1h-3zM231 532h3v1h-3zM272 533h2v1h-2zM270 534h2v1h-2zM239 535h4v1h-4zM247 537h4v1h-4zM262 537h4v1h-4zM254 538h5v1h-5zM54 475h1v1h-1zM114 473h1v1h-1zM118 474h1v1h-1zM122 476h1v1h-1zM126 477h1v1h-1zM130 479h1v1h-1zM138 483h1v1h-1zM146 487h1v1h-1zM154 491h1v1h-1zM160 494h1v1h-1zM168 499h1v1h-1zM176 504h1v1h-1zM182 507h1v1h-1zM185 509h1v1h-1zM186 510h1v1h-1zM192 513h1v1h-1zM198 516h1v1h-1zM201 518h1v1h-1zM202 519h1v1h-1zM210 523h1v1h-1zM222 528h1v1h-1zM226 530h1v1h-1zM230 531h1v1h-1zM234 533h1v1h-1zM238 534h1v1h-1zM246 536h1v1h-1zM266 536h1v1h-1zM274 532h1v1h-1zM286 527h1v1h-1zM290 525h1v1h-1zM298 521h1v1h-1zM306 517h1v1h-1zM314 513h1v1h-1zM322 509h1v1h-1zM330 505h1v1h-1zM334 504h1v1h-1zM338 502h1v1h-1zM342 501h1v1h-1zM358 498h1v1h-1zM366 496h1v1h-1zM422 497h1v1h-1zM426 499h1v1h-1zM430 500h1v1h-1zM434 502h1v1h-1zM438 503h1v1h-1zM442 505h1v1h-1zM446 506h1v1h-1zM450 508h1v1h-1zM454 509h1v1h-1zM462 511h1v1h-1zM494 511h1v1h-1zM498 509h1v1h-1zM502 508h1v1h-1zM512 502h1v1h-1zM518 498h1v1h-1zM519 497h1v1h-1zM520 496h1v1h-1zM521 495h1v1h-1zM522 494h1v1h-1zM526 491h1v1h-1zM527 490h1v1h-1zM528 489h1v1h-1zM529 488h1v1h-1zM530 487h1v1h-1zM534 483h1v1h-1zM535 482h1v1h-1zM536 481h1v1h-1zM537 480h1v1h-1zM538 479h1v1h-1zM542 475h1v1h-1zM543 474h1v1h-1zM544 473h1v1h-1zM554 467h1v1h-1zM560 464h1v1h-1zM566 460h1v1h-1zM567 459h1v1h-1zM570 457h1v1h-1zM578 453h1v1h-1zM586 449h1v1h-1zM590 448h1v1h-1zM598 446h1v1h-1zM606 444h1v1h-1zM614 442h1v1h-1zM622 440h1v1h-1zM626 438h1v1h-1zM630 437h1v1h-1zM646 434h1v1h-1zM662 431h1v1h-1zM702 430h1v1h-1zM774 437h1v1h-1zM782 439h1v1h-1zM786 441h1v1h-1zM790 442h1v1h-1zM794 444h1v1h-1zM802 448h1v1h-1zM814 452h1v1h-1zM822 454h1v1h-1zM830 456h1v1h-1zM946 455h1v1h-1zM950 454h1v1h-1zM966 452h1v1h-1zM974 450h1v1h-1zM982 448h1v1h-1zM1042 448h1v1h-1zM1046 449h1v1h-1zM1050 451h1v1h-1zM1054 452h1v1h-1zM1058 454h1v1h-1zM1066 458h1v1h-1zM1074 462h1v1h-1zM1082 466h1v1h-1zM1088 469h1v1h-1zM1098 475h1v1h-1zM1106 479h1v1h-1zM1112 482h1v1h-1zM1122 488h1v1h-1zM1126 489h1v1h-1zM1130 491h1v1h-1zM1134 492h1v1h-1z" fill="#ff0000"/>
</g>
<g clip-path="url(#c3)" shape-rendering="crispEdges">
<line x1="9" y1="587.5" x2="1190" y2="587.5" stroke="#c0c0c0" stroke-width="1" stroke-dasharray="3 3"/>
<line x1="9" y1="635.5" x2="1190" y2="635.5" stroke="#c0c0c0" stroke-width="1" stroke-dasharray="3 3"/>
<path d="M719 582h19v1h-19zM960 582h2v1h-2zM717 583h2v1h-2zM738 583h3v1h-3zM958 583h2v1h-2zM962 583h3v1h-3zM714 584h3v1h-3zM741 584h2v1h-2zM956 584h2v1h-2zM965 584h2v1h-2zM712 585h2v1h-2zM743 585h2v1h-2zM954 585h2v1h-2zM967 585h6v1h-6zM710 586h2v1h-2zM951 586h3v1h-3zM973 586h6v1h-6zM616 587h18v1h-18zM661 587h5v1h-5zM847 587h2v1h-2zM947 587h4v1h-4zM979 587h4v1h-4zM569 588h2v1h-2zM614 588h2v1h-2zM634 588h3v1h-3zM655 588h6v1h-6zM666 588h2v1h-2zM707 588h2v1h-2zM845 588h2v1h-2zM943 588h4v1h-4zM983 588h11v1h-11zM527 589h3v1h-3zM565 589h2v1h-2zM637 589h2v1h-2zM653 589h2v1h-2zM668 589h2v1h-2zM705 589h2v1h-2zM842 589h3v1h-3zM941 589h2v1h-2zM994 589h2v1h-2zM523 590h4v1h-4zM530 590h2v1h-2zM611 590h2v1h-2zM639 590h6v1h-6zM650 590h3v1h-3zM670 590h2v1h-2zM703 590h2v1h-2zM837 590h5v1h-5zM938 590h3v1h-3zM996 590h2v1h-2zM519 591h4v1h-4zM532 591h2v1h-2zM573 591h2v1h-2zM609 591h2v1h-2zM645 591h5v1h-5zM672 591h3v1h-3zM699 591h4v1h-4zM816 591h5v1h-5zM829 591h8v1h-8zM933 591h5v1h-5zM998 591h2v1h-2zM515 592h4v1h-4zM534 592h2v1h-2zM541 592h5v1h-5zM561 592h2v1h-2zM675 592h4v1h-4zM695 592h4v1h-4zM814 592h2v1h-2zM821 592h8v1h-8zM864 592h2v1h-2zM894 592h2v1h-2zM912 592h5v1h-5zM925 592h8v1h-8zM511 593h4v1h-4zM536 593h5v1h-5zM546 593h2v1h-2zM559 593h2v1h-2zM576 593h3v1h-3zM591 593h2v1h-2zM679 593h4v1h-4zM693 593h2v1h-2zM757 593h4v1h-4zM812 593h2v1h-2zM866 593h2v1h-2zM917 593h8v1h-8zM1001 593h2v1h-2zM509 594h2v1h-2zM548 594h2v1h-2zM557 594h2v1h-2zM579 594h4v1h-4zM587 594h4v1h-4zM593 594h2v1h-2zM605 594h2v1h-2zM683 594h4v1h-4zM690 594h3v1h-3zM752 594h5v1h-5zM810 594h2v1h-2zM868 594h2v1h-2zM891 594h2v1h-2zM1003 594h2v1h-2zM1023 594h11v1h-11zM506 595h3v1h-3zM550 595h2v1h-2zM554 595h3v1h-3zM583 595h4v1h-4zM595 595h2v1h-2zM687 595h3v1h-3zM808 595h2v1h-2zM870 595h2v1h-2zM889 595h2v1h-2zM1019 595h4v1h-4zM1034 595h2v1h-2zM503 596h3v1h-3zM552 596h2v1h-2zM872 596h3v1h-3zM887 596h2v1h-2zM1006 596h2v1h-2zM1013 596h6v1h-6zM1036 596h2v1h-2zM501 597h2v1h-2zM598 597h2v1h-2zM601 597h2v1h-2zM875 597h4v1h-4zM883 597h4v1h-4zM1008 597h5v1h-5zM1038 597h2v1h-2zM498 598h3v1h-3zM879 598h4v1h-4zM496 599h2v1h-2zM803 599h2v1h-2zM1041 599h2v1h-2zM1043 600h2v1h-2zM24 601h5v1h-5zM37 601h8v1h-8zM22 602h2v1h-2zM29 602h8v1h-8zM45 602h8v1h-8zM799 602h2v1h-2zM1046 602h2v1h-2zM53 603h4v1h-4zM491 603h2v1h-2zM795 603h4v1h-4zM1152 603h5v1h-5zM19 604h2v1h-2zM57 604h2v1h-2zM77 604h4v1h-4zM789 604h6v1h-6zM1150 604h2v1h-2zM1157 604h12v1h-12zM17 605h2v1h-2zM59 605h2v1h-2zM71 605h6v1h-6zM472 605h5v1h-5zM783 605h6v1h-6zM1148 605h2v1h-2zM15 606h2v1h-2zM69 606h2v1h-2zM477 606h12v1h-12zM779 606h4v1h-4zM1146 606h2v1h-2zM11 607h4v1h-4zM62 607h2v1h-2zM66 607h3v1h-3zM271 607h22v1h-22zM469 607h2v1h-2zM775 607h4v1h-4zM1144 607h2v1h-2zM8 608h3v1h-3zM64 608h2v1h-2zM267 608h4v1h-4zM293 608h4v1h-4zM771 608h4v1h-4zM264 609h3v1h-3zM325 609h5v1h-5zM768 609h3v1h-3zM96 610h2v1h-2zM262 610h2v1h-2zM320 610h5v1h-5zM330 610h2v1h-2zM342 610h2v1h-2zM465 610h2v1h-2zM94 611h2v1h-2zM98 611h2v1h-2zM299 611h2v1h-2zM332 611h2v1h-2zM340 611h2v1h-2zM363 611h2v1h-2zM1139 611h2v1h-2zM100 612h2v1h-2zM259 612h2v1h-2zM334 612h2v1h-2zM338 612h2v1h-2zM91 613h2v1h-2zM102 613h2v1h-2zM257 613h2v1h-2zM336 613h2v1h-2zM89 614h2v1h-2zM126 614h2v1h-2zM255 614h2v1h-2zM384 614h3v1h-3zM399 614h3v1h-3zM105 615h2v1h-2zM253 615h2v1h-2zM304 615h2v1h-2zM368 615h2v1h-2zM382 615h2v1h-2zM387 615h4v1h-4zM395 615h4v1h-4zM402 615h2v1h-2zM1134 615h2v1h-2zM123 616h2v1h-2zM250 616h3v1h-3zM306 616h3v1h-3zM370 616h2v1h-2zM391 616h4v1h-4zM404 616h2v1h-2zM1087 616h2v1h-2zM1120 616h3v1h-3zM1132 616h2v1h-2zM121 617h2v1h-2zM248 617h2v1h-2zM309 617h2v1h-2zM372 617h2v1h-2zM379 617h2v1h-2zM406 617h2v1h-2zM1083 617h4v1h-4zM1104 617h2v1h-2zM1118 617h2v1h-2zM1123 617h4v1h-4zM1130 617h2v1h-2zM109 618h2v1h-2zM119 618h2v1h-2zM311 618h2v1h-2zM374 618h2v1h-2zM377 618h2v1h-2zM408 618h9v1h-9zM1071 618h12v1h-12zM1106 618h3v1h-3zM1116 618h2v1h-2zM1127 618h3v1h-3zM115 619h4v1h-4zM417 619h2v1h-2zM1067 619h4v1h-4zM1109 619h2v1h-2zM1114 619h2v1h-2zM112 620h3v1h-3zM160 620h3v1h-3zM222 620h2v1h-2zM1064 620h3v1h-3zM1111 620h3v1h-3zM158 621h2v1h-2zM163 621h4v1h-4zM208 621h2v1h-2zM1062 621h2v1h-2zM136 622h11v1h-11zM156 622h2v1h-2zM167 622h2v1h-2zM210 622h3v1h-3zM219 622h2v1h-2zM227 622h2v1h-2zM421 622h2v1h-2zM147 623h4v1h-4zM154 623h2v1h-2zM169 623h2v1h-2zM213 623h2v1h-2zM217 623h2v1h-2zM437 623h5v1h-5zM1059 623h2v1h-2zM151 624h3v1h-3zM215 624h2v1h-2zM424 624h13v1h-13zM442 624h2v1h-2zM454 624h2v1h-2zM1056 624h3v1h-3zM444 625h2v1h-2zM452 625h2v1h-2zM173 626h2v1h-2zM232 626h9v1h-9zM446 626h2v1h-2zM450 626h2v1h-2zM448 627h2v1h-2zM176 628h2v1h-2zM178 629h2v1h-2zM180 630h2v1h-2zM191 630h3v1h-3zM182 631h2v1h-2zM187 631h4v1h-4zM194 631h2v1h-2zM184 632h3v1h-3zM196 632h2v1h-2zM198 633h2v1h-2zM21 603h1v1h-1zM61 606h1v1h-1zM81 605h1v2h-1zM82 607h1v1h-1zM83 608h1v1h-1zM84 609h1v2h-1zM85 611h1v1h-1zM86 612h1v1h-1zM87 613h1v2h-1zM88 615h1v1h-1zM93 612h1v1h-1zM104 614h1v1h-1zM107 616h1v1h-1zM108 617h1v1h-1zM111 619h1v1h-1zM125 615h1v1h-1zM128 613h1v1h-1zM129 614h1v1h-1zM130 615h1v1h-1zM131 616h1v1h-1zM132 617h1v2h-1zM133 619h1v1h-1zM134 620h1v1h-1zM135 621h1v1h-1zM171 624h1v1h-1zM172 625h1v1h-1zM175 627h1v1h-1zM200 634h1v1h-1zM201 632h1v2h-1zM202 630h1v2h-1zM203 629h1v1h-1zM204 627h1v2h-1zM205 626h1v1h-1zM206 624h1v2h-1zM207 622h1v2h-1zM221 621h1v1h-1zM224 619h1v1h-1zM225 620h1v1h-1zM226 621h1v1h-1zM229 623h1v1h-1zM230 624h1v1h-1zM231 625h1v1h-1zM241 625h1v1h-1zM242 624h1v1h-1zM243 623h1v1h-1zM244 621h1v2h-1zM245 620h1v1h-1zM246 619h1v1h-1zM247 618h1v1h-1zM261 611h1v1h-1zM297 609h1v1h-1zM298 610h1v1h-1zM301 612h1v1h-1zM302 613h1v1h-1zM303 614h1v1h-1zM313 617h1v1h-1zM314 616h1v1h-1zM315 615h1v1h-1zM316 614h1v1h-1zM317 613h1v1h-1zM318 612h1v1h-1zM319 611h1v1h-1zM344 609h1v1h-1zM345 608h1v1h-1zM346 607h1v1h-1zM347 606h1v1h-1zM348 604h1v2h-1zM349 603h1v1h-1zM350 602h1v1h-1zM351 601h1v1h-1zM352 600h1v1h-1zM353 601h1v1h-1zM354 602h1v1h-1zM355 603h1v1h-1zM356 604h1v1h-1zM357 605h1v1h-1zM358 606h1v1h-1zM359 607h1v1h-1zM360 608h1v1h-1zM361 609h1v1h-1zM362 610h1v1h-1zM365 612h1v1h-1zM366 613h1v1h-1zM367 614h1v1h-1zM376 619h1v1h-1zM381 616h1v1h-1zM419 620h1v1h-1zM420 621h1v1h-1zM423 623h1v1h-1zM456 623h1v1h-1zM457 621h1v2h-1zM458 620h1v1h-1zM459 618h1v2h-1zM460 617h1v1h-1zM461 615h1v2h-1zM462 614h1v1h-1zM463 612h1v2h-1zM464 611h1v1h-1zM467 609h1v1h-1zM468 608h1v1h-1zM471 606h1v1h-1zM489 605h1v1h-1zM490 604h1v1h-1zM493 602h1v1h-1zM494 601h1v1h-1zM495 600h1v1h-1zM563 591h1v1h-1zM564 590h1v1h-1zM567 588h1v1h-1zM568 587h1v1h-1zM571 589h1v1h-1zM572 590h1v1h-1zM575 592h1v1h-1zM597 596h1v1h-1zM600 598h1v1h-1zM603 596h1v1h-1zM604 595h1v1h-1zM607 593h1v1h-1zM608 592h1v1h-1zM613 589h1v1h-1zM709 587h1v1h-1zM745 586h1v1h-1zM746 587h1v1h-1zM747 588h1v1h-1zM748 589h1v2h-1zM749 591h1v1h-1zM750 592h1v1h-1zM751 593h1v1h-1zM760 594h1v1h-1zM761 595h1v2h-1zM762 597h1v2h-1zM763 599h1v2h-1zM764 601h1v2h-1zM765 603h1v2h-1zM766 605h1v2h-1zM767 607h1v2h-1zM801 601h1v1h-1zM802 600h1v1h-1zM805 598h1v1h-1zM806 597h1v1h-1zM807 596h1v1h-1zM849 588h1v2h-1zM850 590h1v2h-1zM851 592h1v1h-1zM852 593h1v2h-1zM853 595h1v1h-1zM854 596h1v2h-1zM855 598h1v2h-1zM856 600h1v1h-1zM857 599h1v1h-1zM858 598h1v1h-1zM859 597h1v1h-1zM860 596h1v1h-1zM861 595h1v1h-1zM862 594h1v1h-1zM863 593h1v1h-1zM893 593h1v1h-1zM896 591h1v1h-1zM897 592h1v2h-1zM898 594h1v2h-1zM899 596h1v1h-1zM900 597h1v2h-1zM901 599h1v1h-1zM902 600h1v2h-1zM903 602h1v2h-1zM904 604h1v1h-1zM905 602h1v2h-1zM906 601h1v1h-1zM907 599h1v2h-1zM908 598h1v1h-1zM909 596h1v2h-1zM910 595h1v1h-1zM911 593h1v2h-1zM1000 592h1v1h-1zM1005 595h1v1h-1zM1040 598h1v1h-1zM1045 601h1v1h-1zM1048 603h1v2h-1zM1049 605h1v3h-1zM1050 608h1v2h-1zM1051 610h1v3h-1zM1052 613h1v3h-1zM1053 616h1v3h-1zM1054 619h1v2h-1zM1055 621h1v3h-1zM1056 625h1v1h-1zM1061 622h1v1h-1zM1089 617h1v2h-1zM1090 619h1v1h-1zM1091 620h1v1h-1zM1092 621h1v2h-1zM1093 623h1v1h-1zM1094 624h1v1h-1zM1095 625h1v2h-1zM1096 627h1v1h-1zM1097 626h1v1h-1zM1098 624h1v2h-1zM1099 623h1v1h-1zM1100 622h1v1h-1zM1101 621h1v1h-1zM1102 619h1v2h-1zM1103 618h1v1h-1zM1136 614h1v1h-1zM1137 613h1v1h-1zM1138 612h1v1h-1zM1141 610h1v1h-1zM1142 609h1v1h-1zM1143 608h1v1h-1z" fill="#1e90ff"/>
</g>
<path d="M11 12 L18.4 12 L14.7 16.4 Z" fill="#000"/>
<text x="22.10" y="17" fill="#000" textLength="46.3" lengthAdjust="spacingAndGlyphs" text-anchor="start">SP500-,H4</text>
<text x="22.45" y="17" fill="#000" textLength="46.3" lengthAdjust="spacingAndGlyphs" text-anchor="start">SP500-,H4</text>
<text x="73.60" y="17" fill="#000" textLength="37.4" lengthAdjust="spacingAndGlyphs" text-anchor="start">4574.750</text>
<text x="73.95" y="17" fill="#000" textLength="37.4" lengthAdjust="spacingAndGlyphs" text-anchor="start">4574.750</text>
<text x="114.80" y="17" fill="#000" textLength="37.4" lengthAdjust="spacingAndGlyphs" text-anchor="start">4576.050</text>
<text x="115.15" y="17" fill="#000" textLength="37.4" lengthAdjust="spacingAndGlyphs" text-anchor="start">4576.050</text>
<text x="156.10" y="17" fill="#000" textLength="37.4" lengthAdjust="spacingAndGlyphs" text-anchor="start">4574.050</text>
<text x="156.45" y="17" fill="#000" textLength="37.4" lengthAdjust="spacingAndGlyphs" text-anchor="start">4574.050</text>
<text x="197.10" y="17" fill="#000" textLength="37.4" lengthAdjust="spacingAndGlyphs" text-anchor="start">4575.250</text>
<text x="197.45" y="17" fill="#000" textLength="37.4" lengthAdjust="spacingAndGlyphs" text-anchor="start">4575.250</text>
<text x="11.60" y="432" fill="#000" textLength="66.4" lengthAdjust="spacingAndGlyphs" text-anchor="start">MACD(12,26,9)</text>
<text x="11.95" y="432" fill="#000" textLength="66.4" lengthAdjust="spacingAndGlyphs" text-anchor="start">MACD(12,26,9)</text>
<text x="81.60" y="432" fill="#000" textLength="26.7" lengthAdjust="spacingAndGlyphs" text-anchor="start">1.6051</text>
<text x="81.95" y="432" fill="#000" textLength="26.7" lengthAdjust="spacingAndGlyphs" text-anchor="start">1.6051</text>
<text x="111.80" y="432" fill="#000" textLength="30.8" lengthAdjust="spacingAndGlyphs" text-anchor="start">-3.2855</text>
<text x="112.15" y="432" fill="#000" textLength="30.8" lengthAdjust="spacingAndGlyphs" text-anchor="start">-3.2855</text>
<text x="11.60" y="563" fill="#000" textLength="31.9" lengthAdjust="spacingAndGlyphs" text-anchor="start">RSI(14)</text>
<text x="11.95" y="563" fill="#000" textLength="31.9" lengthAdjust="spacingAndGlyphs" text-anchor="start">RSI(14)</text>
<text x="46.20" y="563" fill="#000" textLength="33.4" lengthAdjust="spacingAndGlyphs" text-anchor="start">55.6562</text>
<text x="46.55" y="563" fill="#000" textLength="33.4" lengthAdjust="spacingAndGlyphs" text-anchor="start">55.6562</text>
<g shape-rendering="crispEdges">
<rect x="1191" y="18" width="2" height="1" fill="#000"/>
<rect x="1191" y="51" width="2" height="1" fill="#000"/>
<rect x="1191" y="84" width="2" height="1" fill="#000"/>
<rect x="1191" y="117" width="2" height="1" fill="#000"/>
<rect x="1191" y="150" width="2" height="1" fill="#000"/>
<rect x="1191" y="183" width="2" height="1" fill="#000"/>
<rect x="1191" y="216" width="2" height="1" fill="#000"/>
<rect x="1191" y="249" width="2" height="1" fill="#000"/>
<rect x="1191" y="282" width="2" height="1" fill="#000"/>
<rect x="1191" y="315" width="2" height="1" fill="#000"/>
<rect x="1191" y="348" width="2" height="1" fill="#000"/>
<rect x="1191" y="381" width="2" height="1" fill="#000"/>
<rect x="1191" y="414" width="2" height="1" fill="#000"/>
<rect x="1191" y="421" width="1" height="1" fill="#000"/>
<rect x="1191" y="491" width="1" height="1" fill="#000"/>
<rect x="1191" y="547" width="1" height="1" fill="#000"/>
<rect x="1191" y="552" width="1" height="1" fill="#000"/>
<rect x="1191" y="670" width="1" height="1" fill="#000"/>
<rect x="8" y="672" width="1" height="3" fill="#000"/>
<rect x="72" y="672" width="1" height="3" fill="#000"/>
<rect x="136" y="672" width="1" height="3" fill="#000"/>
<rect x="200" y="672" width="1" height="3" fill="#000"/>
<rect x="264" y="672" width="1" height="3" fill="#000"/>
<rect x="328" y="672" width="1" height="3" fill="#000"/>
<rect x="392" y="672" width="1" height="3" fill="#000"/>
<rect x="456" y="672" width="1" height="3" fill="#000"/>
<rect x="520" y="672" width="1" height="3" fill="#000"/>
<rect x="584" y="672" width="1" height="3" fill="#000"/>
<rect x="648" y="672" width="1" height="3" fill="#000"/>
<rect x="712" y="672" width="1" height="3" fill="#000"/>
<rect x="776" y="672" width="1" height="3" fill="#000"/>
<rect x="840" y="672" width="1" height="3" fill="#000"/>
<rect x="904" y="672" width="1" height="3" fill="#000"/>
<rect x="968" y="672" width="1" height="3" fill="#000"/>
<rect x="1032" y="672" width="1" height="3" fill="#000"/>
<rect x="1096" y="672" width="1" height="3" fill="#000"/>
<rect x="1160" y="672" width="1" height="3" fill="#000"/>
</g>
<text x="1195.60" y="22" fill="#000" textLength="37.6" lengthAdjust="spacingAndGlyphs" text-anchor="start">4640.015</text>
<text x="1195.95" y="22" fill="#000" textLength="37.6" lengthAdjust="spacingAndGlyphs" text-anchor="start">4640.015</text>
<text x="1195.60" y="55" fill="#000" textLength="37.6" lengthAdjust="spacingAndGlyphs" text-anchor="start">4596.950</text>
<text x="1195.95" y="55" fill="#000" textLength="37.6" lengthAdjust="spacingAndGlyphs" text-anchor="start">4596.950</text>
<text x="1195.60" y="88" fill="#000" textLength="37.6" lengthAdjust="spacingAndGlyphs" text-anchor="start">4553.885</text>
<text x="1195.95" y="88" fill="#000" textLength="37.6" lengthAdjust="spacingAndGlyphs" text-anchor="start">4553.885</text>
<text x="1195.60" y="121" fill="#000" textLength="37.6" lengthAdjust="spacingAndGlyphs" text-anchor="start">4510.820</text>
<text x="1195.95" y="121" fill="#000" textLength="37.6" lengthAdjust="spacingAndGlyphs" text-anchor="start">4510.820</text>
<text x="1195.60" y="154" fill="#000" textLength="37.6" lengthAdjust="spacingAndGlyphs" text-anchor="start">4466.450</text>
<text x="1195.95" y="154" fill="#000" textLength="37.6" lengthAdjust="spacingAndGlyphs" text-anchor="start">4466.450</text>
<text x="1195.60" y="187" fill="#000" textLength="37.6" lengthAdjust="spacingAndGlyphs" text-anchor="start">4423.385</text>
<text x="1195.95" y="187" fill="#000" textLength="37.6" lengthAdjust="spacingAndGlyphs" text-anchor="start">4423.385</text>
<text x="1195.60" y="220" fill="#000" textLength="37.6" lengthAdjust="spacingAndGlyphs" text-anchor="start">4380.320</text>
<text x="1195.95" y="220" fill="#000" textLength="37.6" lengthAdjust="spacingAndGlyphs" text-anchor="start">4380.320</text>
<text x="1195.60" y="253" fill="#000" textLength="37.6" lengthAdjust="spacingAndGlyphs" text-anchor="start">4337.255</text>
<text x="1195.95" y="253" fill="#000" textLength="37.6" lengthAdjust="spacingAndGlyphs" text-anchor="start">4337.255</text>
<text x="1195.60" y="286" fill="#000" textLength="37.6" lengthAdjust="spacingAndGlyphs" text-anchor="start">4292.885</text>
<text x="1195.95" y="286" fill="#000" textLength="37.6" lengthAdjust="spacingAndGlyphs" text-anchor="start">4292.885</text>
<text x="1195.60" y="319" fill="#000" textLength="37.6" lengthAdjust="spacingAndGlyphs" text-anchor="start">4249.820</text>
<text x="1195.95" y="319" fill="#000" textLength="37.6" lengthAdjust="spacingAndGlyphs" text-anchor="start">4249.820</text>
<text x="1195.60" y="352" fill="#000" textLength="37.6" lengthAdjust="spacingAndGlyphs" text-anchor="start">4206.755</text>
<text x="1195.95" y="352" fill="#000" textLength="37.6" lengthAdjust="spacingAndGlyphs" text-anchor="start">4206.755</text>
<text x="1195.60" y="385" fill="#000" textLength="37.6" lengthAdjust="spacingAndGlyphs" text-anchor="start">4163.690</text>
<text x="1195.95" y="385" fill="#000" textLength="37.6" lengthAdjust="spacingAndGlyphs" text-anchor="start">4163.690</text>
<text x="1195.60" y="418" fill="#000" textLength="37.6" lengthAdjust="spacingAndGlyphs" text-anchor="start">4120.625</text>
<text x="1195.95" y="418" fill="#000" textLength="37.6" lengthAdjust="spacingAndGlyphs" text-anchor="start">4120.625</text>
<rect x="1193" y="16" width="44" height="11" fill="#ff0000" shape-rendering="crispEdges"/>
<text x="1195.60" y="25" fill="#fff" textLength="37.6" lengthAdjust="spacingAndGlyphs" text-anchor="start">4635.000</text>
<text x="1195.95" y="25" fill="#fff" textLength="37.6" lengthAdjust="spacingAndGlyphs" text-anchor="start">4635.000</text>
<rect x="1193" y="63" width="44" height="11" fill="#000" shape-rendering="crispEdges"/>
<text x="1195.60" y="72" fill="#fff" textLength="37.6" lengthAdjust="spacingAndGlyphs" text-anchor="start">4575.250</text>
<text x="1195.95" y="72" fill="#fff" textLength="37.6" lengthAdjust="spacingAndGlyphs" text-anchor="start">4575.250</text>
<rect x="1193" y="104" width="44" height="11" fill="#00cc00" shape-rendering="crispEdges"/>
<text x="1195.60" y="113" fill="#fff" textLength="37.6" lengthAdjust="spacingAndGlyphs" text-anchor="start">4520.000</text>
<text x="1195.95" y="113" fill="#fff" textLength="37.6" lengthAdjust="spacingAndGlyphs" text-anchor="start">4520.000</text>
<rect x="1193" y="180" width="44" height="11" fill="#4054e4" shape-rendering="crispEdges"/>
<text x="1195.60" y="189" fill="#fff" textLength="37.6" lengthAdjust="spacingAndGlyphs" text-anchor="start">4420.000</text>
<text x="1195.95" y="189" fill="#fff" textLength="37.6" lengthAdjust="spacingAndGlyphs" text-anchor="start">4420.000</text>
<rect x="1193" y="256" width="44" height="11" fill="#4054e4" shape-rendering="crispEdges"/>
<text x="1195.60" y="265" fill="#fff" textLength="37.6" lengthAdjust="spacingAndGlyphs" text-anchor="start">4320.000</text>
<text x="1195.95" y="265" fill="#fff" textLength="37.6" lengthAdjust="spacingAndGlyphs" text-anchor="start">4320.000</text>
<rect x="1193" y="317" width="44" height="11" fill="#4054e4" shape-rendering="crispEdges"/>
<text x="1195.60" y="326" fill="#fff" textLength="37.6" lengthAdjust="spacingAndGlyphs" text-anchor="start">4240.000</text>
<text x="1195.95" y="326" fill="#fff" textLength="37.6" lengthAdjust="spacingAndGlyphs" text-anchor="start">4240.000</text>
<text x="1193.60" y="430" fill="#000" textLength="32.6" lengthAdjust="spacingAndGlyphs" text-anchor="start">53.3041</text>
<text x="1193.95" y="430" fill="#000" textLength="32.6" lengthAdjust="spacingAndGlyphs" text-anchor="start">53.3041</text>
<text x="1193.70" y="495" fill="#000" textLength="17.4" lengthAdjust="spacingAndGlyphs" text-anchor="start">0.00</text>
<text x="1194.05" y="495" fill="#000" textLength="17.4" lengthAdjust="spacingAndGlyphs" text-anchor="start">0.00</text>
<text x="1194.00" y="545" fill="#000" textLength="30.2" lengthAdjust="spacingAndGlyphs" text-anchor="start">-42.973</text>
<text x="1194.35" y="545" fill="#000" textLength="30.2" lengthAdjust="spacingAndGlyphs" text-anchor="start">-42.973</text>
<text x="1194.20" y="561" fill="#000" textLength="15.3" lengthAdjust="spacingAndGlyphs" text-anchor="start">100</text>
<text x="1194.55" y="561" fill="#000" textLength="15.3" lengthAdjust="spacingAndGlyphs" text-anchor="start">100</text>
<text x="1192.50" y="591" fill="#000" textLength="10.2" lengthAdjust="spacingAndGlyphs" text-anchor="start">70</text>
<text x="1192.85" y="591" fill="#000" textLength="10.2" lengthAdjust="spacingAndGlyphs" text-anchor="start">70</text>
<text x="1192.50" y="639" fill="#000" textLength="10.2" lengthAdjust="spacingAndGlyphs" text-anchor="start">30</text>
<text x="1192.85" y="639" fill="#000" textLength="10.2" lengthAdjust="spacingAndGlyphs" text-anchor="start">30</text>
<text x="1194.00" y="668" fill="#000" textLength="5.1" lengthAdjust="spacingAndGlyphs" text-anchor="start">0</text>
<text x="1194.35" y="668" fill="#000" textLength="5.1" lengthAdjust="spacingAndGlyphs" text-anchor="start">0</text>
<text x="6.50" y="684" fill="#000" textLength="47.1" lengthAdjust="spacingAndGlyphs" text-anchor="start">2&#160;Mar&#160;2022</text>
<text x="6.85" y="684" fill="#000" textLength="47.1" lengthAdjust="spacingAndGlyphs" text-anchor="start">2&#160;Mar&#160;2022</text>
<text x="70.50" y="684" fill="#000" textLength="49.8" lengthAdjust="spacingAndGlyphs" text-anchor="start">3&#160;Mar&#160;16:00</text>
<text x="70.85" y="684" fill="#000" textLength="49.8" lengthAdjust="spacingAndGlyphs" text-anchor="start">3&#160;Mar&#160;16:00</text>
<text x="134.50" y="684" fill="#000" textLength="49.8" lengthAdjust="spacingAndGlyphs" text-anchor="start">6&#160;Mar&#160;23:00</text>
<text x="134.85" y="684" fill="#000" textLength="49.8" lengthAdjust="spacingAndGlyphs" text-anchor="start">6&#160;Mar&#160;23:00</text>
<text x="198.50" y="684" fill="#000" textLength="49.8" lengthAdjust="spacingAndGlyphs" text-anchor="start">8&#160;Mar&#160;04:00</text>
<text x="198.85" y="684" fill="#000" textLength="49.8" lengthAdjust="spacingAndGlyphs" text-anchor="start">8&#160;Mar&#160;04:00</text>
<text x="262.50" y="684" fill="#000" textLength="49.8" lengthAdjust="spacingAndGlyphs" text-anchor="start">9&#160;Mar&#160;12:00</text>
<text x="262.85" y="684" fill="#000" textLength="49.8" lengthAdjust="spacingAndGlyphs" text-anchor="start">9&#160;Mar&#160;12:00</text>
<text x="326.50" y="684" fill="#000" textLength="54.6" lengthAdjust="spacingAndGlyphs" text-anchor="start">10&#160;Mar&#160;20:00</text>
<text x="326.85" y="684" fill="#000" textLength="54.6" lengthAdjust="spacingAndGlyphs" text-anchor="start">10&#160;Mar&#160;20:00</text>
<text x="390.50" y="684" fill="#000" textLength="54.6" lengthAdjust="spacingAndGlyphs" text-anchor="start">14&#160;Mar&#160;00:00</text>
<text x="390.85" y="684" fill="#000" textLength="54.6" lengthAdjust="spacingAndGlyphs" text-anchor="start">14&#160;Mar&#160;00:00</text>
<text x="454.50" y="684" fill="#000" textLength="54.6" lengthAdjust="spacingAndGlyphs" text-anchor="start">15&#160;Mar&#160;08:00</text>
<text x="454.85" y="684" fill="#000" textLength="54.6" lengthAdjust="spacingAndGlyphs" text-anchor="start">15&#160;Mar&#160;08:00</text>
<text x="518.50" y="684" fill="#000" textLength="54.6" lengthAdjust="spacingAndGlyphs" text-anchor="start">16&#160;Mar&#160;16:00</text>
<text x="518.85" y="684" fill="#000" textLength="54.6" lengthAdjust="spacingAndGlyphs" text-anchor="start">16&#160;Mar&#160;16:00</text>
<text x="582.50" y="684" fill="#000" textLength="54.6" lengthAdjust="spacingAndGlyphs" text-anchor="start">18&#160;Mar&#160;00:00</text>
<text x="582.85" y="684" fill="#000" textLength="54.6" lengthAdjust="spacingAndGlyphs" text-anchor="start">18&#160;Mar&#160;00:00</text>
<text x="646.50" y="684" fill="#000" textLength="54.6" lengthAdjust="spacingAndGlyphs" text-anchor="start">21&#160;Mar&#160;04:00</text>
<text x="646.85" y="684" fill="#000" textLength="54.6" lengthAdjust="spacingAndGlyphs" text-anchor="start">21&#160;Mar&#160;04:00</text>
<text x="710.50" y="684" fill="#000" textLength="54.6" lengthAdjust="spacingAndGlyphs" text-anchor="start">22&#160;Mar&#160;12:00</text>
<text x="710.85" y="684" fill="#000" textLength="54.6" lengthAdjust="spacingAndGlyphs" text-anchor="start">22&#160;Mar&#160;12:00</text>
<text x="774.50" y="684" fill="#000" textLength="54.6" lengthAdjust="spacingAndGlyphs" text-anchor="start">23&#160;Mar&#160;20:00</text>
<text x="774.85" y="684" fill="#000" textLength="54.6" lengthAdjust="spacingAndGlyphs" text-anchor="start">23&#160;Mar&#160;20:00</text>
<text x="838.50" y="684" fill="#000" textLength="54.6" lengthAdjust="spacingAndGlyphs" text-anchor="start">25&#160;Mar&#160;04:00</text>
<text x="838.85" y="684" fill="#000" textLength="54.6" lengthAdjust="spacingAndGlyphs" text-anchor="start">25&#160;Mar&#160;04:00</text>
<text x="902.50" y="684" fill="#000" textLength="54.6" lengthAdjust="spacingAndGlyphs" text-anchor="start">28&#160;Mar&#160;12:00</text>
<text x="902.85" y="684" fill="#000" textLength="54.6" lengthAdjust="spacingAndGlyphs" text-anchor="start">28&#160;Mar&#160;12:00</text>
<text x="966.50" y="684" fill="#000" textLength="54.6" lengthAdjust="spacingAndGlyphs" text-anchor="start">29&#160;Mar&#160;20:00</text>
<text x="966.85" y="684" fill="#000" textLength="54.6" lengthAdjust="spacingAndGlyphs" text-anchor="start">29&#160;Mar&#160;20:00</text>
<text x="1030.50" y="684" fill="#000" textLength="54.6" lengthAdjust="spacingAndGlyphs" text-anchor="start">31&#160;Mar&#160;04:00</text>
<text x="1030.85" y="684" fill="#000" textLength="54.6" lengthAdjust="spacingAndGlyphs" text-anchor="start">31&#160;Mar&#160;04:00</text>
<text x="1094.50" y="684" fill="#000" textLength="49.0" lengthAdjust="spacingAndGlyphs" text-anchor="start">1&#160;Apr&#160;12:00</text>
<text x="1094.85" y="684" fill="#000" textLength="49.0" lengthAdjust="spacingAndGlyphs" text-anchor="start">1&#160;Apr&#160;12:00</text>
<text x="1158.50" y="684" fill="#000" textLength="49.0" lengthAdjust="spacingAndGlyphs" text-anchor="start">4&#160;Apr&#160;20:00</text>
<text x="1158.85" y="684" fill="#000" textLength="49.0" lengthAdjust="spacingAndGlyphs" text-anchor="start">4&#160;Apr&#160;20:00</text>
<text x="801.6" y="380.9" fill="#ff0000" textLength="175" lengthAdjust="spacing" text-anchor="start" style="font-family:'Liberation Sans','Noto Sans CJK SC',sans-serif;font-size:34.6px;font-weight:300">多空转折点</text>
<text transform="translate(975.8,381.2) scale(1.04,1)" fill="#ff0000" style="font-size:36.4px;letter-spacing:0px">4520</text>
</svg></body></html>
